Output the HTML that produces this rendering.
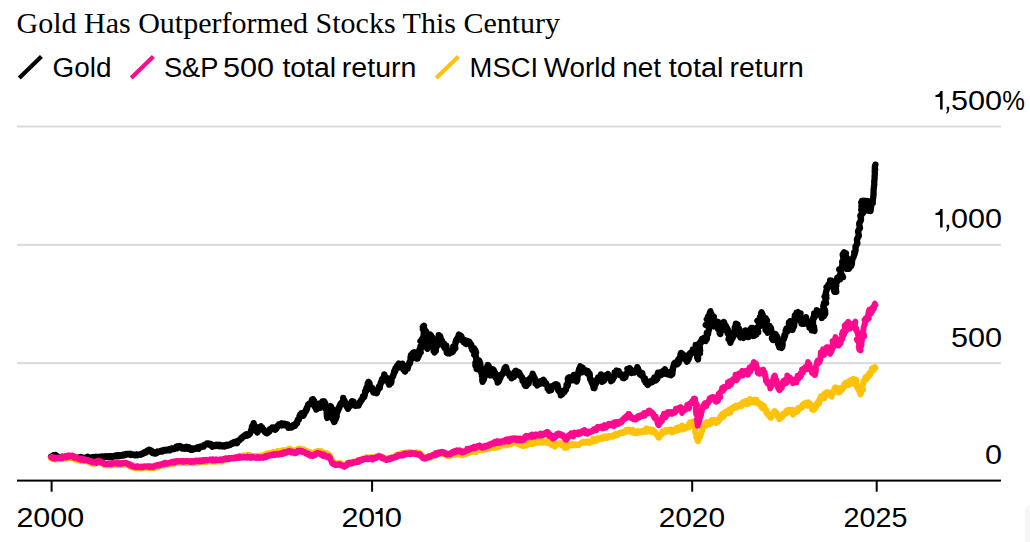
<!DOCTYPE html>
<html><head><meta charset="utf-8"><title>Gold Has Outperformed Stocks This Century</title>
<style>
html,body{margin:0;padding:0;background:#fff;}
body{width:1030px;height:542px;overflow:hidden;position:relative;font-family:"Liberation Sans",sans-serif;}
svg{position:absolute;left:0;top:0;display:block;}
text{fill:#000;}
.t{font-family:"Liberation Serif",serif;font-size:30px;}
.s{font-family:"Liberation Sans",sans-serif;font-size:27px;}
.ln{fill:none;stroke-width:5.9;stroke-linejoin:round;stroke-linecap:round;}
</style></head><body>
<svg width="1030" height="542" viewBox="0 0 1030 542">
<rect width="1030" height="542" fill="#fff"/>
<!-- corner shadow -->
<path d="M1030 505.5 Q1025 506.5 1025 512 L1025 542 L1030 542 Z" fill="#f6f6f6"/>
<!-- title -->
<text class="t" x="16.5" y="32.5">Gold Has Outperformed Stocks This Century</text>
<!-- legend -->
<line x1="19.3" y1="77.9" x2="41.4" y2="56.6" stroke="#000" stroke-width="4.2"/>
<line x1="131.2" y1="77.9" x2="153.3" y2="56.6" stroke="#ff0a8f" stroke-width="4.2"/>
<line x1="436.3" y1="77.9" x2="458.4" y2="56.6" stroke="#ffc20a" stroke-width="4.2"/>
<text class="s" x="52.58" y="77.4" textLength="58.98" lengthAdjust="spacingAndGlyphs">Gold</text>
<text class="s" x="163.94" y="77.4" textLength="54.48" lengthAdjust="spacingAndGlyphs">S&amp;P</text>
<text class="s" x="222.92" y="77.4" textLength="51.08" lengthAdjust="spacingAndGlyphs">500</text>
<text class="s" x="282.40" y="77.4" textLength="53.79" lengthAdjust="spacingAndGlyphs">total</text>
<text class="s" x="341.85" y="77.4" textLength="74.55" lengthAdjust="spacingAndGlyphs">return</text>
<text class="s" x="469.62" y="77.4" textLength="68.41" lengthAdjust="spacingAndGlyphs">MSCI</text>
<text class="s" x="543.77" y="77.4" textLength="72.16" lengthAdjust="spacingAndGlyphs">World</text>
<text class="s" x="622.19" y="77.4" textLength="38.89" lengthAdjust="spacingAndGlyphs">net</text>
<text class="s" x="668.80" y="77.4" textLength="54.62" lengthAdjust="spacingAndGlyphs">total</text>
<text class="s" x="729.56" y="77.4" textLength="74.13" lengthAdjust="spacingAndGlyphs">return</text>
<text class="s" x="950.92" y="109.5" textLength="51.08" lengthAdjust="spacingAndGlyphs">500</text>
<text class="s" x="1002.35" y="109.5" textLength="22.71" lengthAdjust="spacingAndGlyphs">%</text>
<text class="s" x="951.07" y="227.5" textLength="50.93" lengthAdjust="spacingAndGlyphs">000</text>
<text class="s" x="950.92" y="346.7" textLength="51.08" lengthAdjust="spacingAndGlyphs">500</text>
<text class="s" x="985.07" y="463.6" textLength="17.00" lengthAdjust="spacingAndGlyphs">0</text>
<text class="s" x="16.45" y="526.6" textLength="67.77" lengthAdjust="spacingAndGlyphs">2000</text>
<text class="s" x="341.46" y="526.6" textLength="33.72" lengthAdjust="spacingAndGlyphs">20</text>
<text class="s" x="384.85" y="526.6" textLength="17.23" lengthAdjust="spacingAndGlyphs">0</text>
<text class="s" x="658.68" y="526.6" textLength="66.41" lengthAdjust="spacingAndGlyphs">2020</text>
<text class="s" x="843.54" y="526.6" textLength="63.91" lengthAdjust="spacingAndGlyphs">2025</text>
<path d="M4.75,-18.5 L7.2,-18.5 L7.2,0 L4.7,0 L4.7,-12.6 L0.1,-12.6 L0.1,-14.4 Q3.9,-14.6 4.95,-18.5 Z" transform="translate(935.4,109.5)"/>
<path d="M1.2,-2.7 h2.5 v2.7 q0,3.1 -2.5,4.3 l-0.7,-0.9 q1.4,-0.8 1.5,-3.4 h-0.8 z" transform="translate(945.5,109.5)"/>
<path d="M4.75,-18.5 L7.2,-18.5 L7.2,0 L4.7,0 L4.7,-12.6 L0.1,-12.6 L0.1,-14.4 Q3.9,-14.6 4.95,-18.5 Z" transform="translate(935.4,227.5)"/>
<path d="M1.2,-2.7 h2.5 v2.7 q0,3.1 -2.5,4.3 l-0.7,-0.9 q1.4,-0.8 1.5,-3.4 h-0.8 z" transform="translate(945.5,227.5)"/>
<path d="M4.75,-18.5 L7.2,-18.5 L7.2,0 L4.7,0 L4.7,-12.6 L0.1,-12.6 L0.1,-14.4 Q3.9,-14.6 4.95,-18.5 Z" transform="translate(375.4,526.6)"/>
<!-- grid -->
<g fill="#d9d9d9">
<rect x="17" y="125.5" width="984" height="2"/>
<rect x="17" y="243.8" width="984" height="2"/>
<rect x="17" y="362.2" width="984" height="2"/>
</g>
<!-- series -->
<polyline class="ln" stroke="#000" style="stroke-width:6.3" points="51.0,456.8 51.3,456.7 51.5,456.4 51.7,456.3 52.0,457.0 52.3,456.6 52.5,456.8 52.7,456.6 53.0,456.2 53.2,455.6 53.5,455.3 53.7,455.6 54.0,455.7 54.2,455.7 54.5,455.8 54.7,456.1 55.0,456.0 55.2,455.9 55.5,455.6 55.8,455.2 56.0,455.9 56.3,456.4 56.5,456.9 56.7,456.6 57.0,456.4 57.3,456.4 57.5,456.3 57.7,456.6 58.0,457.0 58.2,457.1 58.5,457.1 58.8,457.5 59.0,457.6 59.3,457.4 59.5,457.5 59.8,457.3 60.0,457.9 60.3,458.1 60.5,457.6 60.8,457.3 61.0,457.4 61.3,457.3 61.5,457.3 61.8,458.0 62.0,456.7 62.3,457.1 62.5,457.3 62.8,457.5 63.0,457.5 63.3,457.6 63.5,457.8 63.8,457.6 64.0,457.7 64.3,457.4 64.5,457.2 64.8,457.0 65.0,457.6 65.3,457.1 65.5,457.3 65.8,457.8 66.0,457.6 66.3,457.2 66.5,457.8 66.8,457.6 67.0,457.3 67.3,457.2 67.5,457.2 67.8,457.4 68.0,457.1 68.3,457.3 68.5,457.2 68.8,457.2 69.0,457.1 69.3,457.2 69.5,457.3 69.8,457.2 70.0,457.4 70.3,457.3 70.5,457.4 70.8,457.5 71.0,457.5 71.3,457.4 71.5,457.6 71.7,457.7 72.0,457.4 72.2,457.7 72.5,457.7 72.7,457.5 73.0,457.8 73.3,457.8 73.5,457.9 73.7,457.9 74.0,458.0 74.2,458.0 74.5,457.7 74.8,457.4 75.0,457.8 75.3,458.6 75.5,458.9 75.8,457.7 76.0,458.0 76.2,457.9 76.5,457.7 76.8,457.8 77.0,457.9 77.2,457.8 77.5,457.9 77.7,458.1 78.0,458.0 78.2,458.3 78.5,458.4 78.8,458.5 79.0,458.4 79.2,458.0 79.5,457.4 79.7,457.5 80.0,457.7 80.3,457.3 80.5,457.4 80.7,457.1 81.0,457.8 81.2,458.4 81.5,458.2 81.7,457.5 82.0,458.0 82.3,457.9 82.5,457.5 82.7,457.7 83.0,457.9 83.3,458.0 83.5,458.4 83.8,458.4 84.0,458.0 84.3,457.7 84.5,457.6 84.8,457.8 85.0,457.8 85.2,457.9 85.5,457.8 85.7,457.9 86.0,457.6 86.2,457.7 86.5,457.8 86.7,457.5 87.0,457.1 87.2,456.9 87.5,457.0 87.7,456.8 88.0,457.5 88.2,456.9 88.5,457.5 88.7,458.0 88.9,457.7 89.2,458.1 89.4,457.4 89.7,457.6 89.9,457.5 90.2,457.8 90.4,457.8 90.7,457.6 90.9,457.6 91.2,457.6 91.4,457.9 91.7,457.8 91.9,457.4 92.2,457.5 92.4,457.3 92.6,457.4 92.9,457.4 93.1,457.3 93.4,457.3 93.6,457.5 93.9,457.0 94.1,457.2 94.4,457.2 94.6,457.3 94.9,457.1 95.1,457.0 95.4,457.5 95.6,457.8 95.9,457.6 96.1,457.2 96.4,457.1 96.6,456.7 96.9,457.2 97.1,457.8 97.4,457.9 97.6,457.1 97.9,457.4 98.1,457.5 98.4,457.3 98.6,457.1 98.9,457.1 99.1,456.8 99.4,457.0 99.6,457.2 99.9,457.1 100.1,457.4 100.4,457.3 100.6,457.4 100.9,457.6 101.1,457.2 101.4,456.8 101.6,457.1 101.9,456.7 102.1,457.1 102.4,457.0 102.6,456.8 102.9,456.9 103.1,456.6 103.4,456.9 103.6,457.0 103.9,457.1 104.1,457.4 104.4,457.1 104.6,456.8 104.9,456.7 105.1,457.1 105.4,456.8 105.6,456.4 105.9,456.6 106.1,456.4 106.4,456.5 106.7,456.5 106.9,456.7 107.2,456.5 107.4,456.5 107.7,457.0 107.9,456.9 108.2,457.0 108.4,456.9 108.7,456.6 108.9,456.2 109.2,456.4 109.4,457.0 109.7,456.6 109.9,456.3 110.2,456.4 110.4,456.3 110.7,456.2 110.9,456.7 111.2,456.6 111.4,456.8 111.7,456.6 111.9,456.5 112.2,456.7 112.4,456.5 112.7,456.5 112.9,456.8 113.2,456.7 113.4,456.6 113.7,456.5 113.9,456.5 114.2,456.3 114.4,456.4 114.7,456.2 114.9,455.7 115.2,455.6 115.4,456.1 115.7,456.3 115.9,456.4 116.2,456.4 116.4,455.7 116.6,456.2 116.9,455.9 117.1,455.8 117.4,455.4 117.6,455.8 117.9,455.9 118.1,456.1 118.4,456.3 118.6,455.7 118.9,455.2 119.1,455.4 119.4,455.8 119.6,455.4 119.9,456.0 120.1,455.7 120.4,455.4 120.6,455.6 120.9,455.8 121.1,455.5 121.4,455.3 121.6,455.5 121.8,455.3 122.1,455.4 122.3,455.5 122.6,455.4 122.8,454.7 123.1,454.6 123.3,454.7 123.6,455.1 123.8,455.5 124.1,455.2 124.3,455.3 124.5,455.3 124.8,455.0 125.1,454.9 125.3,455.0 125.6,455.0 125.8,454.6 126.0,454.0 126.3,454.1 126.5,454.2 126.8,454.5 127.0,454.3 127.3,454.0 127.5,453.9 127.8,454.1 128.0,454.1 128.3,453.9 128.5,453.9 128.7,453.9 129.0,453.9 129.2,454.1 129.5,454.3 129.7,454.3 130.0,453.9 130.2,454.0 130.5,453.8 130.7,455.0 131.0,454.7 131.2,454.3 131.5,454.2 131.7,454.4 132.0,454.4 132.2,454.6 132.5,454.8 132.7,454.7 132.9,454.8 133.2,454.7 133.4,454.7 133.7,454.5 133.9,454.6 134.2,454.7 134.4,454.8 134.7,455.1 134.9,455.1 135.2,455.3 135.4,455.3 135.7,455.1 135.9,454.7 136.2,454.9 136.4,454.6 136.7,454.9 136.9,454.5 137.2,454.8 137.4,454.7 137.7,454.9 137.9,455.1 138.2,454.7 138.4,454.8 138.7,454.7 138.9,454.6 139.2,454.6 139.4,454.5 139.7,454.6 139.9,454.5 140.2,454.7 140.4,454.4 140.7,454.4 140.9,453.9 141.2,454.2 141.4,454.5 141.7,454.0 141.9,454.2 142.2,454.1 142.4,453.6 142.7,454.0 142.9,453.6 143.2,453.7 143.4,453.3 143.7,453.2 143.9,453.0 144.2,452.4 144.4,452.2 144.7,452.3 144.9,452.4 145.2,452.1 145.4,452.1 145.7,452.7 146.0,452.4 146.2,452.3 146.5,452.0 146.7,451.2 146.9,451.2 147.2,450.7 147.5,450.5 147.7,450.9 148.0,450.8 148.2,450.1 148.5,450.1 148.8,449.9 149.0,450.2 149.2,449.9 149.5,449.7 149.7,449.8 150.0,450.0 150.2,450.5 150.5,450.4 150.8,450.6 151.0,451.3 151.2,452.0 151.4,451.0 151.7,450.8 152.0,452.1 152.2,452.4 152.4,452.3 152.7,453.1 153.0,452.5 153.2,452.6 153.4,452.6 153.7,452.3 154.0,453.1 154.2,453.1 154.5,453.1 154.7,453.4 154.9,453.3 155.2,453.3 155.5,453.1 155.7,453.3 155.9,452.7 156.2,453.4 156.5,452.9 156.8,452.5 157.0,451.9 157.3,451.6 157.5,451.8 157.7,452.4 158.0,452.1 158.3,451.9 158.5,452.0 158.8,451.6 159.0,451.6 159.3,451.4 159.5,451.5 159.8,451.7 160.0,451.6 160.3,451.5 160.5,451.1 160.8,451.5 161.0,451.6 161.3,451.3 161.5,451.0 161.8,451.4 162.0,450.8 162.3,451.5 162.5,451.2 162.8,451.0 163.0,450.2 163.3,450.1 163.5,450.5 163.8,450.0 164.0,450.7 164.3,450.2 164.5,450.6 164.8,450.2 165.0,450.4 165.2,450.0 165.5,449.9 165.8,449.9 166.0,450.2 166.3,450.4 166.5,450.2 166.8,449.9 167.0,450.2 167.3,450.2 167.5,450.1 167.7,449.9 168.0,449.7 168.2,449.6 168.5,450.0 168.8,449.6 169.0,450.4 169.3,449.9 169.5,449.9 169.8,449.1 170.0,449.2 170.3,450.2 170.5,449.6 170.8,449.4 171.1,449.3 171.3,449.5 171.5,449.3 171.8,448.6 172.0,449.0 172.3,449.0 172.6,448.7 172.8,448.9 173.0,448.7 173.3,448.7 173.6,448.5 173.8,448.5 174.1,448.8 174.3,448.9 174.5,448.3 174.8,448.3 175.1,448.1 175.3,448.3 175.6,448.1 175.8,448.4 176.1,447.8 176.4,446.6 176.6,446.9 176.8,447.2 177.1,446.6 177.3,447.1 177.6,448.2 177.8,447.8 178.1,446.8 178.3,446.3 178.6,446.5 178.9,446.4 179.1,446.5 179.3,446.5 179.6,446.3 179.8,446.2 180.1,446.6 180.3,446.1 180.6,446.7 180.8,447.7 181.1,447.7 181.3,447.6 181.6,447.9 181.8,447.9 182.1,448.6 182.3,448.5 182.5,447.9 182.8,447.9 183.1,447.6 183.3,448.0 183.6,448.0 183.8,448.1 184.1,447.9 184.3,447.7 184.5,448.6 184.8,448.8 185.1,448.1 185.3,447.9 185.5,447.1 185.8,447.1 186.1,447.2 186.3,447.0 186.5,446.7 186.8,447.6 187.1,447.3 187.3,447.5 187.6,447.8 187.8,448.2 188.1,448.8 188.3,447.8 188.6,448.0 188.8,447.5 189.1,447.3 189.3,448.1 189.6,448.5 189.8,448.6 190.0,448.7 190.3,449.0 190.6,449.5 190.8,449.8 191.1,449.6 191.3,449.7 191.6,449.6 191.8,448.9 192.1,448.6 192.3,449.3 192.6,449.6 192.8,449.3 193.1,449.6 193.3,448.5 193.6,448.7 193.8,449.1 194.1,449.1 194.3,448.9 194.6,449.0 194.8,448.8 195.1,448.4 195.3,448.2 195.6,448.3 195.8,448.8 196.1,448.8 196.3,448.6 196.6,448.4 196.9,448.4 197.1,448.0 197.3,448.4 197.6,448.1 197.8,447.3 198.1,447.7 198.4,448.2 198.6,448.9 198.9,447.7 199.1,447.9 199.4,446.8 199.6,446.7 199.9,447.6 200.1,447.1 200.4,446.8 200.6,447.2 200.9,446.8 201.1,446.9 201.4,447.1 201.6,446.9 201.9,446.5 202.2,446.6 202.4,446.5 202.7,446.5 202.9,446.4 203.1,446.4 203.4,446.2 203.7,446.4 203.9,445.3 204.2,445.4 204.4,444.9 204.7,445.1 205.0,445.0 205.2,444.7 205.5,444.8 205.7,444.3 205.9,444.2 206.2,444.0 206.5,444.3 206.7,443.8 206.9,443.4 207.2,443.5 207.4,443.6 207.7,443.5 207.9,443.4 208.2,443.5 208.4,443.7 208.6,444.3 209.0,443.6 209.2,443.7 209.4,444.1 209.6,444.3 209.9,445.0 210.2,445.3 210.4,444.3 210.7,444.3 210.9,444.1 211.2,444.9 211.4,445.3 211.7,445.3 211.9,446.0 212.2,446.6 212.4,446.3 212.7,446.6 212.9,446.3 213.1,446.4 213.4,446.0 213.7,446.0 213.9,445.7 214.1,446.2 214.4,445.7 214.6,446.0 214.9,446.0 215.1,445.7 215.4,446.1 215.6,446.0 215.9,445.8 216.1,444.7 216.4,445.4 216.6,445.2 216.9,445.2 217.1,445.3 217.4,445.4 217.6,445.1 217.9,445.1 218.1,445.4 218.4,445.0 218.6,445.3 218.9,446.1 219.1,445.8 219.4,446.3 219.6,446.0 219.9,444.7 220.2,444.9 220.4,445.7 220.7,445.8 220.9,445.3 221.2,445.7 221.4,445.8 221.7,446.1 221.9,445.9 222.2,446.3 222.4,446.1 222.7,446.3 222.9,446.3 223.2,445.4 223.4,446.1 223.7,446.0 223.9,445.4 224.2,445.9 224.4,446.6 224.7,446.3 224.9,446.1 225.1,445.3 225.4,445.4 225.6,446.0 225.9,446.1 226.1,446.1 226.4,446.0 226.6,444.7 226.9,445.0 227.1,445.4 227.4,445.5 227.6,445.6 227.9,445.5 228.1,445.6 228.4,445.5 228.6,445.4 228.8,445.4 229.1,445.0 229.4,445.0 229.6,445.0 229.9,444.8 230.1,445.0 230.4,444.1 230.6,443.8 230.9,444.0 231.1,443.8 231.4,443.5 231.6,443.6 231.8,443.2 232.1,442.9 232.4,443.0 232.6,443.2 232.9,443.8 233.1,442.9 233.4,442.7 233.6,442.8 233.9,442.6 234.2,442.1 234.4,442.3 234.7,442.0 234.9,442.3 235.2,442.6 235.4,442.9 235.6,443.0 235.9,443.0 236.2,442.1 236.4,441.6 236.7,441.9 237.0,442.7 237.2,443.1 237.4,442.1 237.7,441.5 237.9,441.2 238.2,440.8 238.4,440.4 238.7,440.5 239.0,440.8 239.2,440.7 239.4,440.3 239.7,440.1 240.0,439.7 240.2,439.5 240.5,439.1 240.7,438.9 241.0,438.7 241.1,438.1 241.4,438.7 241.7,438.4 241.9,438.4 242.1,437.3 242.5,437.2 242.7,437.3 242.9,436.6 243.1,437.0 243.5,436.3 243.7,436.7 243.9,436.1 244.1,435.7 244.4,435.4 244.7,435.4 244.9,435.5 245.2,435.0 245.4,435.7 245.7,435.0 245.9,434.5 246.2,435.0 246.4,434.5 246.7,435.1 246.9,435.8 247.2,435.1 247.5,435.6 247.7,435.5 248.0,434.3 248.2,434.4 248.5,434.9 248.7,435.0 249.0,434.8 249.2,434.4 249.6,433.6 249.7,433.3 250.0,433.7 250.4,432.3 250.5,431.9 250.9,432.0 251.1,430.7 251.2,430.1 251.4,429.5 251.8,428.4 251.9,426.9 252.3,426.0 252.7,425.6 252.6,426.1 252.9,425.3 253.3,424.5 253.6,424.2 253.7,423.2 253.8,424.7 254.2,424.9 254.5,425.3 254.6,426.3 255.3,426.4 255.6,427.5 255.7,427.7 255.9,429.5 256.0,429.2 256.0,429.4 256.5,430.3 256.7,431.0 256.9,432.0 257.2,432.5 257.5,432.3 257.7,432.0 257.9,430.9 258.2,430.4 258.4,429.1 258.7,428.3 258.9,428.3 259.3,429.0 259.4,428.0 259.6,427.0 259.9,427.1 260.1,427.2 260.3,427.0 260.6,426.8 260.8,426.7 261.1,426.4 261.4,427.8 261.6,428.9 261.9,429.2 262.1,428.8 262.3,427.6 262.5,428.9 262.8,429.0 263.0,428.9 263.2,429.1 263.5,429.2 263.7,429.5 264.0,430.4 264.2,430.8 264.6,431.8 264.8,431.6 264.9,431.7 265.2,431.5 265.6,431.9 265.8,432.7 266.0,432.9 266.2,432.5 266.4,432.3 266.7,432.8 267.0,433.3 267.3,433.1 267.5,433.0 267.7,432.4 267.9,432.5 268.2,431.3 268.6,431.9 268.6,431.8 269.0,431.2 269.4,431.5 269.5,430.3 269.7,429.2 270.0,429.2 270.1,429.4 270.5,429.2 270.7,429.7 270.9,428.8 271.2,428.9 271.5,428.4 271.7,428.0 272.0,428.0 272.2,427.5 272.4,427.6 272.6,427.7 272.9,427.7 273.2,427.6 273.4,428.5 273.6,428.9 273.9,429.2 274.1,428.7 274.4,429.1 274.6,429.4 274.8,429.3 275.1,429.8 275.4,429.4 275.7,429.4 275.9,428.4 276.2,428.0 276.3,428.2 276.6,428.5 276.9,427.7 277.1,427.4 277.5,426.7 277.6,425.8 277.8,426.3 278.2,425.8 278.4,425.0 278.7,424.6 278.9,424.7 279.2,424.5 279.5,424.5 279.7,424.7 280.0,424.6 280.2,424.4 280.5,424.4 280.7,424.7 281.0,424.4 281.2,425.1 281.5,424.3 281.7,423.3 282.0,425.1 282.2,425.5 282.5,424.5 282.7,424.8 283.0,424.3 283.2,424.6 283.5,424.9 283.7,423.7 284.0,423.9 284.2,423.9 284.5,423.9 284.8,424.0 285.0,423.7 285.2,424.6 285.5,425.4 285.8,424.8 285.9,424.9 286.3,424.7 286.5,424.7 286.7,425.1 286.9,425.0 287.3,425.7 287.5,424.3 287.7,425.9 287.9,427.0 288.3,427.3 288.4,427.8 288.7,427.3 289.0,427.3 289.2,427.4 289.4,426.9 289.7,427.4 290.0,427.0 290.2,427.5 290.5,426.9 290.7,426.3 291.0,426.1 291.2,427.6 291.4,427.2 291.8,427.3 291.9,427.4 292.3,427.2 292.5,426.2 292.7,425.7 293.0,425.4 293.2,426.1 293.5,424.9 293.7,425.1 294.0,425.6 294.2,425.9 294.5,425.6 294.7,425.6 295.0,425.7 295.2,424.9 295.4,425.2 295.8,423.7 296.1,422.9 296.5,423.5 296.3,423.0 296.9,423.5 297.1,423.3 297.3,421.9 297.7,420.0 297.8,419.7 298.0,419.8 298.3,419.7 298.6,419.0 298.9,419.5 299.1,419.1 299.3,418.2 299.5,416.1 299.8,415.5 299.8,415.6 300.2,414.4 300.7,414.2 300.8,415.9 301.1,415.0 301.5,414.0 301.6,413.1 301.9,413.7 302.1,413.9 302.4,414.8 302.6,415.8 303.0,415.5 303.2,414.8 303.5,415.7 303.7,415.2 303.9,414.7 304.1,414.4 304.5,413.4 305.0,412.1 305.0,411.6 305.5,411.7 305.7,411.2 305.8,411.0 306.2,411.1 306.1,409.2 306.7,408.5 307.1,408.5 307.1,408.0 307.0,407.3 307.4,406.9 307.9,405.4 308.1,404.5 308.3,404.2 308.7,404.0 309.0,404.6 309.2,403.8 309.5,404.6 309.6,403.8 310.0,403.3 310.4,403.2 310.5,403.2 310.9,403.5 310.9,403.7 311.4,401.4 311.6,401.5 311.9,399.6 312.2,401.3 312.3,402.0 312.7,400.3 312.8,399.1 312.7,400.9 313.4,400.1 314.0,400.5 314.1,403.0 314.0,402.8 314.3,403.9 314.6,404.0 314.9,405.5 315.1,406.6 314.6,406.4 315.2,406.1 315.5,408.0 316.1,408.5 316.3,409.6 316.7,409.3 317.1,408.9 317.3,407.7 317.3,406.1 317.7,406.6 317.8,405.9 317.9,404.9 318.4,405.1 318.8,404.0 318.7,403.6 319.1,403.6 319.4,405.1 319.7,405.4 320.0,406.1 320.2,407.9 320.3,407.4 320.6,406.8 320.6,405.7 321.2,405.2 321.9,405.5 321.8,403.7 321.9,403.3 322.1,402.5 322.4,401.6 322.6,402.9 322.8,402.7 323.0,402.0 323.2,401.8 323.7,403.2 323.8,401.7 324.1,401.2 324.4,401.9 325.1,402.9 324.2,403.3 325.1,404.5 325.4,404.8 325.5,406.1 325.4,407.3 325.3,408.8 327.0,410.1 326.7,412.7 326.7,414.0 326.8,414.4 326.8,415.9 327.2,418.0 327.3,417.5 327.7,416.4 327.9,416.0 328.3,414.8 328.3,413.3 328.9,411.6 329.0,411.0 329.4,409.8 329.4,410.6 329.6,409.0 330.3,408.1 330.1,407.3 330.6,406.1 331.0,406.7 331.1,406.5 331.3,408.1 333.0,409.8 332.3,412.8 331.9,413.6 332.2,415.0 332.5,416.6 332.6,417.6 332.8,419.5 333.4,420.1 333.8,420.9 333.8,421.2 334.1,422.1 334.2,421.9 334.5,421.8 334.8,420.4 335.2,418.6 335.4,418.4 335.4,418.8 335.9,418.9 336.0,418.0 336.7,416.6 336.2,415.8 336.8,414.4 336.7,413.8 337.3,412.2 337.4,411.0 337.9,410.6 338.1,410.6 338.1,409.2 338.4,407.9 339.0,408.4 338.9,408.6 339.5,407.6 339.5,406.8 339.8,406.5 339.8,405.0 340.3,404.4 340.5,404.8 341.2,402.9 340.8,403.4 341.4,403.9 341.6,402.6 341.9,402.5 341.8,402.4 342.4,402.5 342.5,402.0 343.1,400.4 343.2,397.9 343.3,399.3 343.4,399.7 343.7,400.1 343.9,400.4 344.3,400.2 344.6,401.0 344.7,402.5 345.3,404.7 345.3,403.0 345.6,403.4 346.1,403.3 346.4,404.0 346.6,404.3 346.7,405.7 346.8,406.5 347.0,406.3 347.2,406.7 347.6,407.4 347.7,408.3 348.0,408.8 348.3,407.7 348.5,407.0 348.7,407.2 349.0,406.9 349.4,405.0 349.6,405.1 349.7,405.1 350.0,406.1 350.4,405.9 350.7,405.4 350.6,404.7 351.2,403.5 351.2,402.7 351.6,402.2 351.7,401.4 352.0,401.2 352.2,401.2 352.5,402.1 352.8,402.4 353.1,403.0 353.2,403.8 353.6,401.7 353.7,404.2 354.1,404.3 354.2,403.8 354.6,404.0 354.9,404.7 354.9,404.7 355.3,404.8 355.5,405.9 355.7,405.4 356.0,405.6 356.3,404.6 356.4,404.7 356.7,405.5 357.0,404.4 357.3,405.3 357.6,404.7 357.7,403.7 357.9,404.2 358.2,404.5 358.5,404.8 358.6,405.6 358.9,404.1 359.2,403.5 359.5,402.5 359.7,403.2 360.0,402.3 360.2,402.4 360.4,402.0 360.7,401.3 361.0,400.1 361.2,401.0 361.4,400.0 362.0,399.8 362.0,399.2 362.4,398.7 362.5,397.9 362.8,397.7 362.9,396.4 363.3,397.8 363.8,396.5 363.6,396.8 363.8,396.2 364.3,396.9 364.3,396.7 364.5,394.9 364.9,394.8 365.1,393.0 365.0,391.6 365.4,391.7 366.3,391.2 366.0,389.5 365.8,390.2 366.2,388.4 366.7,387.2 367.0,386.6 367.1,386.7 367.8,385.1 367.7,383.4 368.1,382.7 368.4,382.0 368.5,382.9 369.0,382.2 369.0,382.4 369.6,383.3 369.7,385.2 369.8,385.9 370.4,388.0 370.6,386.8 370.5,386.3 371.1,387.1 371.1,388.5 371.4,389.3 371.7,389.0 372.0,388.7 372.2,388.3 372.5,388.2 372.6,389.1 372.7,389.7 373.2,390.1 373.3,392.5 373.7,392.7 373.9,392.3 374.1,391.7 374.3,391.6 374.7,391.3 374.9,391.5 375.1,390.9 375.4,390.8 375.7,391.2 375.9,392.3 376.0,392.6 376.4,392.1 376.6,392.9 376.8,393.2 377.0,391.0 377.3,391.1 377.6,390.9 377.8,390.6 378.0,389.2 378.3,388.9 378.6,388.4 378.8,388.5 378.9,386.7 379.4,386.9 379.8,388.1 379.6,386.0 380.1,385.4 380.2,385.6 380.4,383.9 380.6,383.4 381.3,382.7 381.1,382.1 381.8,382.1 381.8,380.6 381.9,379.2 382.2,378.9 382.6,379.3 382.9,378.3 383.1,379.3 383.4,379.5 383.5,379.3 383.8,378.8 384.1,378.2 384.3,374.3 384.7,376.8 384.8,378.5 385.2,377.9 385.3,377.8 385.6,378.5 385.8,378.1 386.2,377.4 386.4,377.8 386.7,377.8 386.9,379.8 387.1,380.0 387.5,381.2 388.1,381.6 388.3,382.2 388.1,381.3 388.3,382.8 388.7,381.8 389.0,382.6 389.2,384.6 389.5,384.6 389.7,383.6 389.9,382.6 390.4,383.2 390.4,382.6 390.7,382.6 391.0,383.2 391.5,381.2 391.0,382.2 391.4,380.6 391.9,377.2 391.8,377.8 393.0,376.5 392.7,376.8 393.1,376.0 393.3,374.7 393.4,374.1 393.7,374.4 393.9,373.2 394.3,370.7 394.3,372.9 395.2,371.4 395.1,371.0 395.4,370.6 395.4,369.3 395.5,368.0 396.1,367.6 396.4,367.0 396.6,366.5 396.8,366.1 397.1,366.7 397.4,367.4 397.7,367.5 397.9,367.8 398.2,364.5 398.3,364.3 398.7,363.6 399.0,365.3 399.3,366.2 399.5,365.3 399.7,364.9 400.0,364.9 400.2,364.5 400.5,365.3 400.7,365.2 401.0,364.7 401.4,364.9 401.7,365.2 401.4,364.0 402.0,365.2 402.4,363.6 402.4,366.2 402.9,367.8 402.9,368.2 403.2,369.4 403.3,368.7 404.1,369.4 404.0,369.3 404.3,368.8 404.6,370.7 404.9,371.4 405.1,371.6 405.3,370.7 405.5,370.7 405.8,369.0 406.4,369.3 406.4,367.7 405.8,368.3 406.8,368.6 407.6,365.6 407.4,366.4 407.8,368.5 407.8,365.7 408.3,366.4 408.3,365.9 408.6,364.0 408.8,364.6 409.2,363.5 409.5,362.5 409.7,361.5 410.0,363.3 409.7,362.9 410.7,360.3 410.5,357.3 411.3,357.2 411.0,355.0 411.4,355.9 412.0,354.1 412.3,355.7 412.3,356.0 412.4,354.9 412.8,353.5 413.1,352.8 413.2,353.3 413.4,353.3 413.5,353.9 413.8,353.1 414.1,352.3 414.3,353.5 414.5,353.5 415.1,352.3 415.5,354.0 415.4,354.3 416.0,356.7 416.1,358.0 416.3,357.9 416.6,356.9 416.6,358.5 417.3,358.1 417.3,356.0 417.6,358.6 417.9,357.5 418.1,356.3 418.4,355.7 418.5,354.5 418.6,355.0 419.0,355.5 419.3,354.8 419.1,353.6 419.4,352.5 420.8,352.3 419.9,350.3 420.4,349.3 419.6,349.1 421.1,348.5 420.5,346.3 422.1,346.5 422.1,345.2 422.2,344.4 422.4,342.6 421.8,342.1 420.4,341.1 424.5,340.4 421.9,339.5 423.7,336.0 423.7,332.6 425.1,331.3 422.9,329.4 424.6,329.0 422.8,327.0 423.9,325.7 423.2,326.2 423.5,328.2 423.2,330.0 425.3,331.4 426.2,331.6 424.3,334.2 425.3,335.7 425.0,336.5 423.8,339.4 427.0,344.5 428.4,345.9 426.5,346.6 427.1,346.9 427.0,347.9 427.0,348.2 427.4,348.7 428.3,345.6 428.3,343.9 428.6,341.4 429.1,340.8 428.4,338.5 429.1,337.8 429.1,337.1 429.3,337.7 429.9,337.8 430.5,335.4 430.0,334.7 430.4,336.2 430.8,334.9 431.3,336.2 431.2,336.7 431.4,337.7 432.4,337.7 432.4,339.7 431.9,341.4 432.0,344.4 432.3,346.3 433.1,345.4 433.9,349.7 433.8,349.3 433.6,350.9 433.6,349.2 434.1,350.9 434.6,352.5 435.2,351.2 434.9,350.1 435.8,349.4 435.9,350.5 435.6,348.4 435.8,345.6 436.7,346.6 436.0,345.7 436.5,344.3 437.1,345.4 437.4,343.1 437.7,341.7 438.0,339.8 438.6,339.2 438.7,338.9 438.7,337.3 438.7,335.2 439.2,335.7 439.0,335.2 439.9,337.1 440.6,337.7 440.2,336.2 440.2,337.7 441.0,340.7 440.6,341.2 441.2,341.3 440.9,342.1 442.0,340.5 441.8,341.6 441.3,342.3 442.0,344.5 442.7,343.1 443.0,344.9 443.1,344.8 443.3,345.3 443.6,346.2 444.1,344.7 444.2,343.6 444.5,345.9 444.8,347.0 444.6,348.2 445.5,347.7 445.6,345.9 445.2,347.1 446.0,347.6 446.4,345.7 446.3,350.2 446.7,350.6 446.7,352.4 447.2,352.1 447.5,351.9 447.7,353.3 448.0,352.7 448.2,351.9 448.5,352.6 448.8,351.5 449.0,351.9 449.3,352.2 449.4,352.4 449.7,353.4 450.0,352.9 450.2,350.9 450.4,351.8 450.7,351.4 451.0,352.5 451.3,352.1 451.4,350.3 451.8,350.6 452.0,352.4 452.2,351.6 452.6,351.4 452.7,351.1 453.0,351.0 453.2,351.3 453.3,350.1 453.7,350.3 453.2,346.7 454.1,347.1 454.7,347.2 455.4,348.4 454.9,344.9 455.6,343.3 455.8,341.3 456.2,339.9 455.5,342.2 456.1,341.6 456.7,339.9 456.8,340.3 457.3,338.2 457.8,338.6 457.8,337.6 457.7,337.7 458.1,338.7 458.4,336.7 458.9,334.5 458.5,336.4 459.1,334.9 459.3,335.6 459.7,335.1 459.9,337.4 460.3,336.6 460.2,336.2 460.7,335.7 460.8,336.5 461.1,336.0 461.6,336.8 461.4,337.4 461.8,340.2 462.1,339.3 462.0,339.1 462.7,339.1 462.7,339.9 463.0,339.5 463.3,339.9 463.6,342.1 463.7,341.9 463.9,341.1 464.1,341.2 464.3,340.8 464.9,343.0 465.0,342.4 465.3,343.6 465.1,342.5 465.9,340.5 465.9,341.9 466.4,341.3 466.6,342.2 466.8,344.1 467.0,343.0 467.3,342.0 467.5,340.9 467.9,341.9 468.1,341.9 468.2,343.4 468.6,341.9 468.9,341.5 469.2,341.6 469.4,343.2 469.7,343.1 469.9,342.6 470.2,344.3 470.1,342.8 470.8,344.0 470.9,345.4 471.4,344.8 471.3,347.6 471.9,348.1 472.0,348.4 472.1,349.4 472.3,350.0 472.6,349.9 472.8,348.6 473.2,349.5 473.4,349.2 473.5,351.0 473.8,351.8 474.1,348.1 474.3,348.8 474.6,350.5 474.8,350.2 475.0,350.6 475.2,351.0 475.5,350.5 476.1,352.6 474.3,354.9 475.5,355.2 475.8,355.8 476.1,357.7 476.4,362.5 475.4,362.8 476.1,363.3 475.3,365.3 475.7,366.2 477.0,366.5 476.7,369.1 477.0,367.6 477.7,368.5 477.6,367.1 477.6,365.4 478.3,362.7 478.6,363.0 478.0,364.6 478.5,363.0 478.8,362.5 479.1,360.4 480.2,363.4 480.6,366.1 479.9,366.9 480.3,366.2 479.7,366.1 481.4,370.1 482.6,370.1 480.3,370.9 482.5,375.0 482.0,376.0 482.4,376.0 482.6,377.9 482.2,379.7 482.6,381.9 483.0,381.1 482.6,379.9 483.9,379.4 483.1,379.3 484.0,378.0 484.1,378.4 484.9,376.2 484.5,374.1 484.9,373.8 485.4,372.2 485.6,371.1 486.1,370.2 485.6,370.7 486.2,370.8 486.0,369.8 486.6,371.1 486.9,368.7 486.7,367.5 486.9,367.5 487.2,366.7 487.8,365.0 488.3,365.5 488.3,365.2 489.0,366.9 489.1,370.0 489.5,370.7 488.6,372.0 489.1,372.6 490.2,375.4 490.6,373.5 490.4,373.0 490.4,373.3 490.7,375.0 490.8,374.3 491.4,374.4 491.6,375.4 491.8,374.7 491.8,372.7 491.9,373.9 492.6,372.1 492.4,371.4 492.7,370.4 493.0,369.3 493.3,370.1 493.6,369.7 493.7,370.6 494.3,371.2 494.3,372.4 495.0,372.8 494.4,373.3 495.4,375.1 495.2,375.5 496.1,377.7 495.9,378.1 496.8,379.1 496.7,378.5 496.5,377.4 497.0,379.8 497.4,380.0 497.6,381.7 497.7,382.5 497.9,381.9 498.3,381.3 498.5,381.1 498.9,381.3 499.2,380.7 499.8,378.2 499.4,377.5 500.0,378.4 499.7,378.4 500.0,377.5 500.4,378.1 500.6,375.0 500.9,375.8 501.1,376.0 501.6,375.4 501.8,375.0 501.9,374.4 502.5,373.3 502.6,373.7 502.8,373.8 503.0,372.8 503.6,371.5 504.1,370.0 503.7,371.0 504.5,371.9 504.0,370.8 504.6,369.7 504.5,368.3 505.1,367.4 505.3,367.4 505.7,367.5 505.9,367.1 506.1,367.3 506.6,368.7 506.5,370.0 506.5,370.6 507.2,370.9 507.2,371.5 507.6,372.1 507.6,372.6 508.1,373.5 508.3,372.5 508.7,373.8 508.8,373.8 509.0,374.2 509.4,374.2 509.6,375.8 510.0,375.4 510.0,376.0 510.4,375.7 510.6,375.6 510.9,375.3 511.2,377.6 511.2,376.9 511.6,378.4 511.9,376.8 512.0,377.2 512.3,377.9 512.4,377.2 513.0,375.9 513.1,375.6 513.4,376.8 513.7,375.8 513.9,377.0 514.5,375.0 514.0,375.8 515.1,374.7 514.5,372.1 515.0,372.7 515.5,370.9 515.6,371.0 515.8,370.9 516.1,371.6 516.5,371.0 516.6,372.2 516.7,371.8 517.0,372.8 517.1,374.7 517.5,374.7 517.9,372.7 518.2,373.0 518.3,372.0 518.6,372.4 518.9,374.0 519.1,373.2 519.3,372.5 519.6,374.3 519.9,374.4 520.1,375.5 520.4,375.1 520.6,376.1 521.2,376.8 521.2,377.1 521.5,376.6 521.6,376.7 522.0,377.2 522.3,378.8 522.4,379.3 522.5,380.8 522.8,380.2 523.1,380.7 523.3,381.2 523.5,379.5 523.9,381.7 524.0,382.2 524.2,382.0 524.2,382.8 524.6,384.7 525.2,385.8 525.2,384.5 525.7,385.1 525.9,384.7 526.0,385.8 526.3,386.0 526.5,385.8 526.7,385.0 527.2,383.8 527.4,384.2 527.6,383.1 527.5,383.9 527.8,382.0 528.3,382.0 528.7,383.6 528.8,379.7 529.2,379.8 529.1,379.2 529.6,379.1 529.8,379.6 530.1,378.3 530.1,379.5 530.6,378.2 530.6,378.5 530.8,377.6 531.4,378.5 531.8,379.2 531.9,377.6 532.0,376.7 532.2,375.2 532.5,374.6 532.7,373.8 533.0,375.1 533.5,375.7 533.2,375.7 533.4,378.5 534.4,377.6 534.1,377.7 534.4,378.4 534.2,377.9 534.6,378.1 535.0,378.9 535.7,381.0 536.2,380.9 535.5,383.7 536.7,382.6 536.5,383.5 536.8,383.9 537.1,385.1 537.3,385.4 537.5,385.3 537.9,384.7 538.0,384.3 538.3,384.3 538.8,383.1 539.0,384.0 538.9,382.7 539.3,383.2 539.7,382.2 539.7,381.3 540.1,384.0 540.4,381.8 540.5,381.3 540.8,381.5 541.0,383.5 541.2,381.8 541.5,381.5 541.9,381.4 542.1,382.4 542.3,381.5 542.6,380.8 542.9,381.1 543.1,379.8 543.3,379.7 543.6,380.0 544.1,380.6 544.0,382.5 544.3,382.0 544.6,382.4 544.9,383.1 545.1,384.1 545.4,383.4 545.6,383.2 545.9,383.4 546.1,383.1 546.4,384.2 546.5,384.4 547.1,386.0 547.4,385.9 547.7,386.1 547.6,387.6 547.6,388.4 547.9,388.2 548.4,389.5 548.5,389.5 548.7,389.6 549.0,390.7 549.3,389.7 549.4,390.1 549.9,389.4 549.9,389.3 550.2,388.5 550.3,388.3 550.7,388.9 551.1,390.3 551.1,387.5 551.3,387.5 551.9,386.3 551.9,386.2 552.3,386.6 552.5,386.6 552.8,386.4 553.1,385.8 553.3,386.8 553.5,386.3 553.7,385.7 554.0,385.8 554.2,384.9 554.5,385.3 554.7,386.2 555.0,384.4 555.3,384.4 555.6,386.6 555.8,384.3 556.1,385.5 556.3,384.7 556.6,384.3 556.9,386.1 556.8,386.5 557.4,386.2 557.6,384.8 557.7,386.2 558.2,387.5 557.9,389.7 558.4,390.7 558.8,390.4 559.2,390.7 559.3,390.9 559.5,391.8 559.7,391.7 560.1,391.1 560.3,391.6 560.4,392.3 560.8,395.3 561.0,393.3 561.0,393.6 561.5,392.5 561.8,394.4 561.9,393.5 562.2,394.1 562.4,394.2 562.7,393.7 562.6,392.2 563.4,392.0 563.3,391.0 563.5,391.5 563.9,391.7 564.0,390.9 564.6,391.0 564.6,391.9 565.0,389.7 565.0,390.3 565.8,390.0 565.6,390.0 565.8,388.8 566.4,387.7 566.5,387.8 566.5,385.9 566.5,385.0 567.7,385.6 568.1,383.3 568.1,382.2 567.8,378.6 568.2,377.9 568.4,378.8 568.7,378.2 568.9,378.8 569.2,378.1 569.5,377.3 569.7,378.5 570.0,379.7 570.3,379.2 570.5,378.9 570.7,378.7 570.9,379.3 571.2,379.8 571.4,379.7 571.7,379.0 571.9,378.3 572.1,380.4 572.5,380.0 572.5,378.9 573.0,376.2 573.2,376.3 573.4,376.6 573.8,374.9 574.0,375.0 574.0,375.3 574.6,376.8 574.7,378.1 574.7,378.3 575.5,376.7 575.0,376.7 575.6,376.9 575.7,377.7 576.2,379.3 576.4,380.9 576.7,381.6 576.9,380.8 577.0,380.3 577.4,379.4 577.6,376.1 577.9,374.3 578.2,372.3 578.0,374.4 578.5,374.5 578.9,371.1 578.7,371.0 579.3,368.5 579.6,368.8 579.8,368.7 580.1,367.0 580.3,366.2 580.5,368.5 580.9,368.1 581.1,369.9 581.4,370.6 581.5,371.7 581.9,372.2 582.1,370.2 582.4,367.6 582.7,367.7 582.9,368.4 583.2,370.1 583.4,370.4 583.6,369.5 583.9,370.3 584.1,370.0 584.4,370.2 584.7,370.2 584.9,370.7 585.3,371.3 585.4,370.6 585.6,370.4 585.9,371.2 586.0,371.9 586.4,370.6 586.7,372.1 587.0,373.4 587.1,372.8 587.5,371.8 587.8,370.9 588.0,373.1 588.3,374.0 588.5,373.4 589.1,374.6 589.3,374.6 589.2,372.8 589.6,373.5 589.8,374.8 589.9,377.6 590.4,378.7 590.1,379.0 590.8,379.9 590.8,379.3 591.7,380.6 591.4,381.5 591.9,383.1 592.2,382.4 592.0,383.2 592.7,384.0 593.0,385.3 592.9,385.1 593.5,386.8 593.6,387.9 593.7,387.4 593.9,387.1 594.2,387.9 594.5,388.1 594.6,384.9 595.3,384.9 595.5,384.1 595.4,384.8 595.9,383.8 596.2,381.2 596.0,381.4 596.4,380.5 596.7,380.4 596.9,379.5 597.2,380.2 597.5,379.4 597.7,379.4 598.0,377.5 598.2,377.6 598.5,377.8 598.8,378.0 598.9,377.9 599.3,377.2 599.5,378.0 599.6,378.6 599.9,377.3 600.1,377.5 600.3,377.9 600.7,376.7 600.8,375.7 601.0,374.3 601.5,378.8 601.7,379.4 601.8,378.8 602.0,381.8 602.2,381.1 602.5,381.0 602.8,380.8 603.1,380.1 603.4,379.9 603.6,379.3 604.2,378.0 603.8,378.8 604.1,380.8 604.5,379.3 604.9,377.4 605.0,377.1 605.0,376.1 605.7,375.8 605.7,375.7 606.0,375.2 606.2,375.0 606.5,375.2 606.7,375.3 607.0,376.5 607.3,375.5 607.6,376.5 607.8,375.1 608.1,374.1 608.3,376.4 608.6,377.0 608.8,375.5 609.0,376.1 609.3,376.4 609.5,376.4 609.6,376.1 610.0,378.1 610.4,378.8 610.6,380.0 610.7,379.8 611.0,381.2 611.4,379.2 611.1,380.3 611.6,378.2 611.8,380.4 612.3,379.4 612.4,380.4 612.8,378.6 613.1,377.7 613.2,378.1 613.3,378.6 613.4,377.5 613.6,376.6 614.4,376.6 614.3,375.3 614.7,375.1 614.7,372.3 615.1,372.6 615.7,373.7 615.8,372.4 616.2,372.5 616.3,371.8 616.5,370.5 616.7,371.5 617.0,371.7 617.3,371.8 617.3,371.8 617.5,372.2 617.9,372.3 618.3,372.3 618.4,373.0 618.8,371.0 619.0,373.8 619.4,372.5 619.4,373.8 619.8,373.0 620.0,374.6 620.2,375.2 620.5,374.8 620.7,375.5 621.0,374.7 621.2,375.7 621.6,374.2 621.5,374.5 622.1,375.7 622.2,375.4 622.5,376.8 622.8,377.9 623.2,377.3 623.2,377.7 623.6,378.2 624.0,378.3 624.1,378.3 624.3,377.7 624.6,377.5 624.8,376.9 625.2,377.0 625.5,377.1 625.2,375.2 626.1,374.7 625.9,374.0 626.6,373.3 626.4,373.7 626.8,373.1 627.3,372.2 627.5,371.9 627.9,370.0 627.4,368.9 628.3,369.3 628.6,369.5 628.7,369.4 629.0,370.1 629.2,369.9 629.4,369.0 629.8,369.9 629.7,368.2 630.2,368.6 630.5,370.7 630.8,370.9 631.0,370.1 631.3,371.9 631.4,373.0 631.7,373.0 631.9,372.1 632.2,371.7 632.4,371.3 632.7,371.0 632.9,370.4 633.1,371.4 633.5,371.3 633.7,372.0 634.0,371.8 634.3,371.8 634.6,372.6 634.8,371.7 635.0,372.0 635.2,371.1 635.5,370.9 635.8,370.6 636.0,369.9 636.3,370.0 636.5,369.8 636.8,370.3 637.0,368.2 637.3,367.1 637.6,371.1 638.0,368.4 638.0,369.7 638.2,370.9 638.5,369.6 638.8,371.2 639.0,372.3 639.2,372.6 639.7,373.4 639.8,372.8 640.0,374.4 640.3,373.4 640.7,373.6 640.9,375.0 641.0,374.3 641.4,373.8 641.4,373.9 641.9,373.2 642.1,374.2 642.3,373.0 642.6,374.9 642.8,376.2 643.0,377.1 643.3,376.9 643.7,377.7 643.7,378.6 644.1,378.7 644.3,380.3 644.4,379.9 644.9,378.2 644.8,378.8 645.2,380.5 645.5,382.4 646.1,381.4 646.2,381.4 646.0,382.7 646.4,381.7 646.7,383.1 647.1,384.5 647.3,383.9 647.6,384.7 647.8,385.0 648.1,384.3 648.3,382.9 648.5,381.9 648.8,382.2 649.2,381.8 649.5,383.3 649.7,382.2 649.9,382.6 650.1,382.5 650.4,381.5 650.6,382.5 650.8,381.5 651.1,382.3 651.4,381.6 651.6,382.5 651.9,381.6 652.1,382.3 652.4,381.5 652.7,381.5 653.0,379.8 653.2,380.0 653.5,379.6 653.7,380.4 654.0,378.9 654.3,377.5 654.5,379.1 654.8,380.7 655.0,379.3 655.2,379.9 655.5,380.4 655.7,379.8 655.9,380.5 656.5,379.8 656.7,378.5 656.7,379.3 657.0,378.2 657.4,378.9 657.8,375.6 657.6,373.9 657.9,372.8 658.4,374.2 658.3,374.8 658.9,375.0 659.1,373.3 659.3,373.6 659.6,374.0 659.8,372.9 660.1,372.6 660.3,372.7 660.6,372.4 661.0,373.6 661.0,373.9 661.3,374.9 661.6,371.9 661.9,372.4 662.0,372.0 662.3,372.5 662.7,371.6 662.8,372.3 663.1,371.4 663.3,370.8 663.6,370.5 663.8,371.0 664.0,371.2 664.5,371.0 664.5,370.8 665.0,369.3 665.2,370.5 665.4,372.8 665.6,373.7 665.8,373.0 666.2,372.1 666.3,373.2 666.6,374.1 666.8,372.9 667.1,373.4 667.4,373.0 667.6,373.1 667.9,373.4 668.1,374.3 668.3,373.7 668.6,373.2 669.0,373.6 669.1,374.6 669.3,373.5 669.6,371.9 670.0,374.1 670.2,375.0 670.4,375.0 670.7,375.1 671.0,374.6 671.2,375.2 671.9,374.0 672.5,374.1 671.6,373.8 671.9,374.3 672.3,373.1 672.8,370.3 673.1,367.8 672.8,368.2 673.3,366.6 673.7,365.9 673.8,364.6 674.1,364.7 674.3,363.2 674.6,362.9 674.8,364.5 675.1,364.9 675.3,364.4 675.6,364.5 675.8,363.3 676.1,364.0 676.3,363.6 676.6,364.1 676.8,363.2 677.1,362.4 677.3,363.9 677.6,364.1 677.6,362.7 678.4,360.6 678.6,360.3 678.6,362.9 678.1,359.7 679.3,361.1 679.1,358.4 680.2,357.2 679.4,358.1 680.1,357.6 680.4,355.4 680.5,354.2 680.8,355.4 681.1,355.2 681.2,352.9 681.6,353.7 681.6,353.3 681.9,355.0 682.2,355.7 682.5,353.9 682.7,356.0 682.9,355.5 683.3,357.8 683.5,357.5 683.8,356.9 684.0,357.1 684.2,358.6 684.6,358.7 684.8,358.6 685.2,358.9 685.2,359.3 685.4,357.6 685.9,355.7 686.1,358.1 686.4,360.6 686.5,360.2 686.9,361.7 686.9,360.9 687.3,361.5 687.6,359.0 687.9,360.3 688.1,360.0 688.5,359.5 688.6,359.0 689.2,357.5 689.4,355.3 689.2,355.8 689.6,354.8 689.4,354.1 690.1,354.2 690.2,354.9 690.2,353.1 690.9,353.1 691.1,352.8 691.4,352.9 691.6,352.5 691.9,352.7 692.0,352.4 692.3,352.5 692.7,351.5 692.8,349.5 693.2,350.0 693.4,349.6 693.6,352.1 693.8,352.4 694.1,351.4 694.2,350.3 694.5,350.1 694.3,350.1 695.1,348.6 696.1,349.0 695.7,346.0 695.7,344.9 696.3,346.1 696.7,348.2 696.6,348.4 696.9,351.3 697.1,354.4 695.9,353.7 698.1,354.7 697.1,357.5 698.0,359.5 698.1,357.3 697.3,355.3 699.9,353.5 699.3,352.6 700.2,350.5 699.8,348.6 699.1,349.7 700.0,347.3 698.2,344.9 699.2,343.3 700.3,342.0 700.5,342.7 700.9,343.0 701.2,340.8 701.5,341.7 701.5,340.7 701.7,339.5 701.9,338.9 702.3,340.7 702.6,340.4 702.8,339.4 703.0,339.1 703.4,338.7 703.7,338.5 703.8,339.7 704.2,338.4 704.3,337.8 704.5,338.6 705.0,339.5 705.2,339.4 705.5,340.5 705.7,341.0 706.4,339.0 706.2,337.7 706.5,336.2 707.0,338.8 706.8,332.9 706.9,333.3 707.4,334.6 707.9,334.5 708.1,334.0 708.0,333.4 708.4,331.7 708.6,331.1 709.0,329.2 709.5,327.0 705.7,325.0 710.5,324.5 706.8,319.3 710.3,321.6 710.5,318.2 708.0,316.5 711.3,313.7 709.8,312.8 710.7,312.5 710.4,311.3 710.0,312.8 711.5,314.5 711.2,315.6 710.6,315.4 712.0,315.1 712.1,315.4 713.9,316.8 712.8,321.0 713.3,322.2 713.0,323.5 713.1,323.6 713.8,323.2 713.6,324.7 713.9,326.5 714.2,325.3 714.2,325.9 714.5,323.9 715.2,321.1 714.8,322.1 715.7,324.4 715.4,323.1 715.9,324.4 716.4,325.5 717.0,325.1 716.6,325.4 716.8,324.6 717.1,324.7 717.9,324.1 717.8,322.7 718.0,321.8 717.5,323.8 718.1,325.5 718.1,328.9 718.9,328.7 718.5,329.4 720.1,331.2 719.6,332.9 720.3,331.3 720.3,334.0 720.3,332.4 721.2,331.1 720.9,328.7 721.0,328.5 720.8,330.4 721.8,328.3 722.4,324.7 722.8,325.2 721.7,324.4 722.3,325.2 722.7,324.3 723.5,325.0 724.1,323.3 723.8,321.8 724.2,322.5 724.2,323.3 724.5,325.1 724.9,326.5 725.3,327.1 725.2,324.8 727.0,328.1 725.9,328.4 726.0,328.5 726.1,329.3 726.5,330.7 726.7,330.0 727.1,331.2 727.2,331.3 727.7,333.5 728.1,334.0 728.0,330.0 727.8,331.3 729.0,333.4 729.7,335.2 728.5,339.2 729.6,337.3 730.2,338.1 729.6,340.1 730.4,342.8 730.2,341.6 730.3,340.8 730.3,341.2 731.1,340.9 731.8,337.8 731.2,337.6 732.3,338.9 731.9,337.8 732.4,336.4 732.5,335.4 732.8,334.3 733.3,336.9 733.7,336.0 733.3,333.7 733.7,332.3 734.1,331.5 734.6,330.7 734.8,331.4 734.7,329.4 734.8,330.2 734.7,327.3 734.8,327.1 735.7,325.4 735.7,325.7 735.9,323.6 736.4,323.6 736.6,324.7 736.4,324.1 737.5,324.5 736.8,326.6 739.0,328.7 738.4,327.7 738.3,331.0 737.9,327.5 738.6,329.5 739.2,330.1 738.7,331.1 738.8,332.6 739.5,333.4 739.8,335.7 740.0,336.1 740.4,337.4 740.5,337.3 740.6,333.0 740.9,334.3 741.4,331.8 741.3,335.1 741.7,335.2 742.2,334.0 742.3,336.4 742.5,336.6 742.9,337.6 743.0,337.5 743.6,337.4 743.3,337.9 743.6,335.9 743.9,332.8 744.3,331.2 744.7,333.0 744.8,331.7 745.2,331.6 745.7,332.1 745.6,330.4 745.7,330.8 746.1,331.4 746.2,331.6 747.5,332.8 746.7,335.9 746.8,333.8 747.1,334.5 747.5,334.5 747.7,336.9 748.0,336.1 748.4,336.6 748.5,336.9 748.9,336.3 748.9,335.9 749.7,332.3 749.7,332.4 750.0,330.0 750.2,330.7 750.3,331.4 750.7,329.1 751.0,328.7 750.8,328.7 751.2,328.2 751.1,328.5 751.5,331.0 751.6,329.7 752.8,328.1 752.8,330.6 753.0,332.9 752.7,334.5 753.3,335.9 753.5,334.0 753.8,335.2 754.0,334.5 754.2,334.6 754.5,335.8 754.8,333.9 755.1,332.8 755.2,333.5 755.5,331.2 755.8,332.4 756.0,332.4 756.4,333.7 756.5,334.5 756.7,332.3 757.0,332.8 757.2,331.2 757.5,331.3 757.7,331.7 757.9,332.3 758.2,332.3 758.1,331.1 757.0,327.5 760.6,325.8 759.1,324.8 758.8,322.4 760.5,324.4 757.4,320.7 760.9,320.3 760.0,317.1 761.2,316.8 761.1,314.0 761.1,313.1 761.5,312.8 761.6,312.3 762.7,314.7 761.1,318.2 760.7,319.8 762.7,317.3 762.4,320.1 762.6,321.7 763.4,323.0 763.6,321.9 763.7,321.6 764.3,319.6 763.6,320.4 764.4,322.0 765.3,320.4 765.0,319.0 765.4,319.7 765.7,318.9 765.5,318.0 767.1,320.6 764.7,325.9 767.0,323.9 766.2,325.4 765.5,329.9 766.5,330.9 766.9,331.1 767.1,330.1 767.3,331.4 767.7,332.7 768.0,331.1 768.1,329.9 768.5,329.2 768.7,328.2 768.9,326.9 769.2,328.6 769.4,328.6 769.6,326.0 770.1,327.5 770.2,327.5 770.4,328.2 770.2,329.1 770.9,327.8 771.5,331.7 772.3,332.6 771.3,332.1 773.6,333.9 771.9,338.4 771.9,337.8 772.7,339.9 773.0,340.0 773.2,338.5 773.2,337.7 773.6,338.0 774.3,337.4 774.3,337.4 774.2,336.2 775.0,337.3 774.6,337.2 775.0,335.1 775.2,335.7 775.6,334.0 775.5,335.7 776.5,336.5 776.8,335.9 776.9,337.6 776.8,337.7 777.7,339.9 777.7,337.9 777.5,341.7 777.4,341.3 777.8,341.5 778.0,344.1 779.0,344.8 778.8,345.6 779.1,346.3 779.3,347.4 779.6,346.2 779.9,346.1 780.0,345.7 780.4,344.4 780.6,344.4 780.9,343.4 781.1,347.8 781.4,348.0 781.7,346.2 781.9,345.6 782.1,347.3 782.3,347.1 782.6,345.1 782.6,344.9 782.5,341.9 782.5,341.1 783.0,339.9 784.0,339.0 784.1,337.8 784.4,335.2 784.7,335.6 784.8,336.9 785.2,335.1 785.3,334.3 785.3,333.6 785.9,332.8 785.6,330.8 786.5,328.5 786.8,330.5 786.9,330.2 787.0,331.4 787.3,330.5 787.5,331.2 788.3,330.2 787.4,328.7 789.7,326.4 790.1,324.7 788.8,323.9 789.0,322.4 789.2,324.1 789.4,322.5 790.3,322.7 790.6,323.3 790.3,321.2 790.3,326.4 791.1,327.7 790.8,328.9 791.6,328.8 791.6,328.9 791.7,328.7 792.1,328.3 792.1,329.4 792.5,330.0 793.0,327.3 793.8,326.9 794.1,326.1 791.2,325.7 793.2,326.3 794.2,324.6 794.8,320.4 794.7,316.7 794.7,317.5 794.9,315.4 795.2,316.8 795.4,317.8 795.4,317.2 795.9,317.2 796.1,314.6 796.4,312.8 796.7,315.1 796.9,318.1 797.1,316.2 797.3,313.0 797.6,312.2 797.9,312.0 798.2,312.9 798.4,313.6 798.8,313.7 799.1,313.7 800.6,313.5 799.9,315.7 799.1,317.7 800.1,320.5 800.9,318.7 800.8,319.2 800.6,318.8 800.9,321.2 801.1,322.5 801.3,322.1 801.5,323.7 801.8,322.2 802.1,321.7 802.2,319.6 802.4,319.9 802.6,322.9 802.9,320.8 803.3,322.0 803.6,323.9 803.9,322.5 804.3,319.1 804.3,318.3 804.6,318.9 804.8,320.3 805.0,319.7 805.7,320.3 805.2,319.7 806.1,317.3 806.2,320.3 806.2,323.5 806.8,323.5 807.1,323.3 806.7,322.2 807.3,322.2 808.0,321.1 807.5,322.3 807.9,322.1 808.3,324.1 808.5,324.4 808.8,324.4 809.0,325.1 809.3,324.6 809.2,325.7 809.5,327.7 810.3,326.9 810.1,327.1 809.7,326.7 810.3,327.6 810.9,328.6 811.1,328.2 811.6,329.8 811.7,330.4 812.2,330.2 812.7,329.2 814.5,330.8 814.1,326.8 812.9,324.9 813.1,321.5 812.4,320.3 813.4,317.2 813.7,318.1 814.0,318.2 814.0,317.3 814.2,317.2 814.2,313.3 815.2,315.2 815.0,316.5 815.8,315.7 815.6,314.3 815.8,314.7 815.9,313.9 816.4,311.5 816.9,311.7 816.8,313.2 816.8,310.2 817.6,312.2 817.5,312.5 817.8,311.1 818.1,312.6 818.5,312.8 818.9,313.5 818.8,313.8 818.8,314.1 819.3,311.9 819.8,311.4 819.7,311.4 820.3,313.0 820.6,314.6 820.5,312.6 820.6,313.0 821.2,314.6 821.3,315.4 821.6,316.5 821.8,318.0 822.1,315.7 822.3,313.1 822.6,312.2 822.9,315.2 823.1,312.7 823.4,314.4 823.7,315.4 823.9,316.3 825.3,313.8 825.2,311.3 824.2,308.2 823.2,306.0 823.6,308.1 823.9,303.1 825.8,301.7 826.1,303.2 825.7,301.4 825.2,297.8 826.5,297.8 824.6,296.6 826.0,294.4 826.3,295.3 825.4,294.7 826.4,290.6 827.4,288.5 826.5,287.1 828.3,285.6 828.5,284.3 828.6,284.3 829.3,286.3 829.2,285.7 829.5,284.1 830.0,284.0 830.1,280.3 830.2,285.0 830.7,283.3 830.9,284.9 831.2,282.2 831.4,280.6 831.4,281.7 831.8,282.1 832.1,281.0 833.0,283.2 832.9,285.5 833.1,284.0 834.0,282.6 834.6,284.9 833.0,286.9 834.8,288.0 833.7,287.7 834.1,290.5 834.5,291.8 836.3,291.8 836.0,289.4 835.7,288.0 834.1,288.1 836.2,286.0 835.3,284.8 835.7,283.5 836.6,282.9 837.2,280.7 837.1,279.5 837.2,277.9 837.8,279.2 837.8,280.2 837.7,278.7 838.9,277.0 838.3,277.9 839.0,277.7 838.8,278.9 839.3,275.6 839.6,277.0 840.0,279.5 840.0,278.5 840.2,275.5 840.6,275.1 840.4,277.1 843.1,277.2 840.4,272.0 841.1,269.9 839.2,269.4 842.4,267.9 842.0,268.2 842.4,262.8 842.2,261.7 843.1,262.4 843.0,261.6 843.7,260.1 842.7,254.4 844.0,252.3 844.4,256.7 844.1,261.9 845.0,258.8 846.1,256.5 845.4,256.4 845.8,254.5 845.3,254.1 845.9,253.2 845.0,255.4 845.2,257.6 845.6,257.3 847.2,258.2 845.6,261.9 846.2,266.0 849.0,268.8 846.3,268.8 847.6,268.1 848.0,268.7 848.3,267.7 848.3,268.1 848.8,264.9 848.8,266.5 849.2,263.0 849.4,266.2 849.5,266.0 849.8,265.2 850.1,263.3 850.3,265.0 850.5,262.6 850.8,265.4 851.1,266.3 851.3,264.1 851.6,264.7 851.4,265.1 851.9,264.1 852.1,259.6 852.9,258.2 852.5,258.9 851.8,260.3 852.5,259.4 853.8,256.3 853.8,255.8 854.6,254.2 854.2,252.2 854.5,254.2 854.4,254.6 855.3,251.6 855.6,250.1 855.5,246.0 855.7,245.9 856.0,246.2 856.2,245.5 856.3,245.4 856.8,244.4 856.9,244.2 857.3,243.7 857.4,243.0 857.1,241.9 857.0,240.4 856.9,239.0 857.2,238.9 857.3,238.8 857.7,238.1 857.9,237.2 858.1,236.8 858.4,236.6 858.6,236.2 858.9,236.0 858.7,234.5 858.3,233.0 858.0,231.5 858.2,230.7 858.6,230.2 858.8,229.8 858.9,229.2 859.2,229.1 859.5,228.9 859.8,228.6 860.0,228.0 859.6,226.0 859.3,225.1 859.2,223.5 859.4,222.7 859.8,222.4 860.0,221.8 860.2,221.2 860.5,221.2 860.7,220.6 861.0,220.0 861.0,218.6 860.4,216.1 860.3,215.5 860.5,215.1 860.8,215.4 861.1,215.8 861.3,215.5 861.6,214.4 861.8,213.8 862.0,214.3 862.3,213.1 862.5,212.6 862.7,212.6 863.0,212.8 863.2,213.0 862.1,210.6 861.2,210.0 861.4,208.0 861.7,206.9 861.4,205.9 862.0,204.2 861.2,202.6 861.8,201.0 862.2,202.7 862.3,204.3 862.5,205.1 862.7,206.5 863.2,205.5 863.5,204.0 863.5,202.4 863.6,200.6 864.2,202.6 864.2,204.3 864.2,205.3 864.6,207.0 864.7,205.6 865.2,204.6 865.5,202.3 865.6,200.8 866.3,202.7 865.8,204.3 866.3,205.7 866.4,207.5 866.6,209.0 866.9,207.3 867.0,205.2 867.6,203.9 867.3,202.4 867.6,201.0 867.7,202.8 867.6,203.5 868.1,205.5 868.4,207.3 868.7,209.6 868.6,210.8 868.7,209.4 869.1,207.5 869.3,206.3 869.3,205.5 869.5,203.1 869.6,201.5 869.5,203.3 870.0,204.2 870.0,205.6 870.1,207.6 870.4,209.2 870.6,211.0 870.8,208.9 871.1,206.9 871.2,205.4 871.6,204.0 871.9,204.0 872.1,203.2 872.3,203.1 872.6,203.0 872.8,203.0 872.7,201.5 872.9,199.3 873.2,198.0 873.3,196.0 873.6,194.4 873.5,193.0 873.6,190.9 873.6,189.4 873.9,187.9 874.0,186.0 874.3,184.5 874.3,182.8 874.2,181.3 874.5,179.7 874.6,178.5 874.6,176.7 874.7,175.0 874.9,173.3 874.8,172.9 874.7,170.5 875.2,169.5 874.8,168.4 874.9,166.3 875.4,164.6"/>
<polyline class="ln" stroke="#ffc20a" points="51.0,458.3 51.3,458.3 51.5,458.4 51.8,458.2 52.0,458.8 52.3,459.1 52.5,459.1 52.8,458.4 53.1,458.9 53.3,458.3 53.6,458.4 53.8,458.9 54.1,459.3 54.3,459.4 54.6,459.2 54.9,459.5 55.1,459.5 55.3,459.4 55.6,459.3 55.8,459.5 56.1,459.2 56.3,459.1 56.6,458.8 56.8,459.1 57.1,459.1 57.3,458.3 57.5,458.7 57.8,459.0 58.0,458.5 58.3,458.9 58.5,459.2 58.8,459.0 59.0,458.8 59.3,458.9 59.5,458.7 59.8,458.4 60.0,458.9 60.3,458.3 60.5,458.9 60.8,458.0 61.0,458.4 61.3,458.0 61.5,458.6 61.8,458.6 62.0,459.0 62.3,458.8 62.5,458.1 62.8,458.4 63.0,457.9 63.3,458.2 63.5,458.2 63.8,458.1 64.1,457.8 64.3,458.0 64.5,458.1 64.8,458.1 65.0,457.8 65.3,458.2 65.5,457.7 65.8,458.3 66.0,457.5 66.3,457.6 66.5,458.2 66.8,458.4 67.0,457.7 67.3,458.1 67.5,458.0 67.8,457.8 68.0,457.6 68.3,457.7 68.5,457.9 68.8,458.4 69.0,457.7 69.3,457.5 69.5,457.2 69.7,457.8 70.0,457.1 70.3,457.3 70.5,457.1 70.8,457.1 71.0,457.5 71.3,457.1 71.5,457.0 71.7,457.1 72.0,456.5 72.2,457.2 72.5,457.4 72.8,457.9 73.0,457.2 73.3,457.4 73.4,458.1 73.7,458.6 74.0,458.6 74.3,458.5 74.5,458.4 74.8,458.7 75.0,458.6 75.3,458.8 75.5,459.1 75.7,459.9 76.0,459.9 76.2,459.7 76.5,459.6 76.7,459.0 76.9,459.5 77.2,459.3 77.4,460.0 77.7,460.4 77.9,460.2 78.2,460.3 78.4,460.2 78.7,460.2 78.9,460.4 79.1,460.0 79.4,460.1 79.6,460.3 79.9,460.7 80.1,460.9 80.4,461.1 80.6,460.6 80.9,460.6 81.1,461.0 81.4,460.0 81.6,459.6 81.9,460.2 82.1,460.4 82.4,460.5 82.6,460.6 82.9,461.1 83.1,460.7 83.4,460.0 83.6,459.7 83.9,459.8 84.1,460.3 84.4,460.4 84.6,461.1 84.9,461.1 85.1,460.9 85.4,460.8 85.6,460.5 85.9,460.9 86.1,461.0 86.4,461.0 86.6,461.0 86.8,460.9 87.1,461.3 87.3,461.1 87.6,460.9 87.8,460.9 88.1,460.6 88.3,461.0 88.6,461.7 88.8,461.2 89.1,461.8 89.3,462.3 89.6,462.6 89.8,463.0 90.0,462.9 90.3,463.1 90.6,462.9 90.8,463.3 91.1,463.2 91.3,463.1 91.5,463.1 91.8,463.5 92.0,463.6 92.3,463.1 92.5,463.3 92.8,463.3 93.0,462.9 93.3,463.4 93.5,463.1 93.8,464.0 94.0,463.8 94.3,463.6 94.5,463.4 94.8,463.7 95.0,463.5 95.3,462.8 95.5,462.9 95.8,463.3 96.0,462.6 96.3,462.7 96.5,462.5 96.8,463.2 97.0,462.4 97.3,462.8 97.5,462.9 97.8,462.3 98.0,461.8 98.3,462.0 98.5,462.0 98.8,462.0 99.0,462.3 99.3,462.6 99.5,462.6 99.8,462.7 100.0,462.6 100.3,462.8 100.5,463.0 100.7,463.1 101.0,463.4 101.3,463.6 101.5,463.7 101.8,463.1 102.0,463.2 102.2,463.2 102.5,463.3 102.7,463.6 103.0,463.7 103.2,464.2 103.5,464.8 103.7,464.7 104.0,465.1 104.2,465.2 104.5,465.0 104.7,465.0 105.0,465.2 105.2,465.2 105.5,465.2 105.7,465.3 106.0,465.3 106.2,465.1 106.5,465.3 106.7,465.0 107.0,465.1 107.2,465.3 107.5,465.4 107.7,465.3 108.0,465.1 108.2,464.8 108.4,464.9 108.7,464.8 109.0,464.7 109.2,465.0 109.4,464.9 109.7,465.5 109.9,465.5 110.2,465.2 110.5,465.3 110.7,464.5 110.9,464.9 111.2,464.3 111.4,464.4 111.7,464.6 112.0,464.9 112.2,465.3 112.4,464.6 112.7,464.4 113.0,464.6 113.2,464.8 113.4,464.4 113.7,464.5 113.9,464.6 114.2,464.8 114.4,464.7 114.7,464.6 115.0,464.5 115.2,464.4 115.4,464.5 115.7,464.6 115.9,464.5 116.2,464.6 116.4,464.6 116.7,464.5 117.0,464.7 117.2,464.4 117.4,464.4 117.7,464.2 118.0,464.2 118.2,464.5 118.4,465.1 118.7,465.1 118.9,465.1 119.2,464.5 119.5,464.7 119.7,464.6 120.0,464.7 120.2,464.7 120.4,464.7 120.7,464.9 121.0,464.7 121.2,464.4 121.5,464.7 121.7,464.3 122.0,464.5 122.2,464.1 122.5,464.7 122.7,464.5 122.9,464.8 123.2,464.7 123.5,464.3 123.7,464.6 124.0,464.2 124.2,464.2 124.5,464.5 124.7,464.2 125.0,464.2 125.2,464.0 125.5,463.8 125.7,464.2 125.9,464.0 126.2,464.1 126.4,464.3 126.7,464.4 126.9,464.5 127.2,464.6 127.5,464.7 127.7,464.9 128.0,464.8 128.2,464.9 128.4,465.3 128.7,465.3 128.9,465.2 129.2,465.5 129.5,465.9 129.7,465.7 129.9,466.7 130.2,466.3 130.5,466.4 130.7,466.4 131.0,466.5 131.2,466.1 131.4,466.5 131.7,466.5 132.0,466.7 132.2,467.1 132.4,467.3 132.7,467.2 132.9,467.5 133.2,467.6 133.5,467.6 133.7,467.5 134.0,467.9 134.2,467.9 134.5,468.1 134.7,468.2 135.0,468.0 135.2,467.5 135.5,467.9 135.7,468.1 136.0,468.1 136.2,467.6 136.5,468.2 136.7,467.8 137.0,467.6 137.2,468.2 137.5,468.2 137.7,468.0 138.0,468.2 138.2,468.0 138.5,468.1 138.7,468.0 139.0,468.2 139.3,468.1 139.5,468.1 139.8,468.0 140.0,468.3 140.2,468.4 140.5,468.2 140.7,468.5 141.0,468.2 141.3,467.8 141.5,467.7 141.7,467.5 142.0,467.7 142.3,467.7 142.5,467.7 142.7,467.9 143.0,467.7 143.2,468.0 143.5,468.0 143.8,467.9 144.0,467.7 144.3,467.6 144.5,467.7 144.7,467.4 145.0,467.7 145.3,467.8 145.5,467.7 145.8,467.7 146.0,467.6 146.3,467.8 146.5,467.7 146.8,467.8 147.0,467.9 147.3,467.8 147.5,467.7 147.8,467.5 148.0,467.6 148.3,467.6 148.5,467.8 148.8,468.0 149.0,467.6 149.3,467.8 149.5,468.1 149.8,467.5 150.0,467.8 150.3,467.8 150.5,467.5 150.8,467.7 151.0,467.9 151.3,468.0 151.5,467.9 151.8,467.9 152.0,467.8 152.3,468.0 152.5,467.9 152.8,467.7 153.0,468.1 153.3,468.1 153.5,467.9 153.8,467.7 154.0,468.2 154.3,467.6 154.5,467.2 154.8,467.4 155.0,467.4 155.3,467.5 155.5,467.2 155.8,467.1 156.0,467.1 156.2,467.0 156.5,467.0 156.7,466.9 157.0,467.1 157.3,466.6 157.5,467.1 157.7,466.8 158.0,466.9 158.2,466.5 158.5,466.4 158.7,466.0 159.0,466.0 159.2,466.0 159.5,466.1 159.7,465.7 160.0,465.8 160.2,465.7 160.5,466.0 160.7,465.6 161.0,465.1 161.2,465.2 161.4,465.4 161.7,465.3 162.0,465.3 162.2,465.0 162.4,465.3 162.7,465.4 163.0,465.3 163.2,465.5 163.5,465.5 163.7,465.4 164.0,465.2 164.2,465.1 164.5,464.7 164.7,464.8 165.0,464.9 165.2,464.8 165.5,464.6 165.7,464.9 166.0,464.7 166.2,464.5 166.5,464.6 166.7,464.7 167.0,464.3 167.2,464.2 167.5,464.5 167.7,464.2 168.0,464.0 168.2,464.0 168.5,464.0 168.7,464.5 169.0,464.2 169.2,464.1 169.5,464.3 169.7,464.0 170.0,464.0 170.3,463.7 170.5,463.7 170.8,463.9 171.0,463.6 171.3,463.9 171.5,463.6 171.8,463.7 172.0,463.0 172.3,463.5 172.5,463.7 172.8,463.6 173.0,464.3 173.3,463.7 173.5,463.8 173.8,463.9 174.0,463.6 174.3,463.4 174.6,462.7 174.8,463.0 175.1,463.0 175.3,462.7 175.6,462.9 175.8,462.8 176.1,463.2 176.3,463.0 176.6,462.9 176.8,462.5 177.1,462.4 177.3,462.2 177.6,462.1 177.8,462.1 178.1,462.5 178.3,462.3 178.6,462.3 178.8,462.2 179.1,462.3 179.3,462.2 179.6,462.3 179.8,462.5 180.1,462.3 180.3,462.3 180.6,462.2 180.8,462.2 181.1,462.0 181.3,462.3 181.6,462.9 181.8,462.6 182.1,462.8 182.3,461.8 182.6,462.2 182.8,462.5 183.1,462.7 183.3,462.6 183.5,462.7 183.8,462.6 184.0,461.8 184.3,462.2 184.5,462.0 184.8,462.4 185.0,462.8 185.3,462.3 185.5,462.6 185.8,462.8 186.0,462.5 186.3,462.7 186.5,462.1 186.8,462.9 187.0,462.5 187.3,462.5 187.5,462.7 187.8,462.5 188.0,462.5 188.3,462.4 188.5,462.4 188.8,462.5 189.0,462.1 189.3,462.0 189.5,462.2 189.8,462.4 190.0,462.2 190.3,461.7 190.5,462.2 190.8,462.2 191.0,462.6 191.3,462.7 191.5,462.6 191.8,462.3 192.0,462.1 192.3,462.7 192.6,462.5 192.8,462.8 193.1,463.0 193.3,462.4 193.6,462.8 193.8,462.3 194.1,462.1 194.3,462.6 194.6,462.4 194.8,462.7 195.1,462.3 195.3,462.6 195.6,462.7 195.8,462.5 196.1,462.4 196.3,462.1 196.6,462.2 196.8,462.2 197.1,462.1 197.3,462.4 197.6,462.3 197.8,462.6 198.1,462.3 198.3,462.2 198.6,462.1 198.8,462.0 199.1,461.8 199.3,461.6 199.6,461.7 199.8,461.5 200.1,461.8 200.3,461.7 200.6,462.0 200.8,461.9 201.1,461.8 201.3,461.7 201.6,461.7 201.8,461.9 202.1,461.8 202.3,461.4 202.6,461.0 202.8,460.6 203.1,460.9 203.3,460.7 203.6,460.9 203.8,461.3 204.1,462.0 204.3,461.8 204.6,462.2 204.8,461.7 205.1,461.6 205.3,461.3 205.6,461.2 205.8,461.6 206.1,461.1 206.3,461.4 206.6,461.8 206.8,461.9 207.1,461.6 207.3,461.4 207.6,461.4 207.8,461.1 208.1,461.1 208.3,461.1 208.6,461.1 208.8,461.1 209.1,461.0 209.3,461.2 209.6,461.1 209.8,461.0 210.1,461.3 210.3,461.4 210.6,461.5 210.8,460.9 211.1,460.7 211.3,460.7 211.6,461.0 211.8,461.1 212.1,461.3 212.3,461.3 212.6,461.6 212.8,460.7 213.1,461.1 213.3,460.7 213.6,460.8 213.8,460.9 214.1,460.9 214.4,461.4 214.6,461.8 214.9,461.2 215.1,460.9 215.4,460.7 215.6,461.0 215.9,461.1 216.1,461.2 216.4,461.4 216.6,460.8 216.9,461.0 217.1,460.6 217.4,460.8 217.6,460.8 217.9,461.3 218.1,461.0 218.4,461.2 218.6,461.2 218.9,461.3 219.1,461.3 219.4,461.2 219.6,461.1 219.9,461.1 220.2,461.1 220.4,461.0 220.6,460.8 220.9,460.8 221.1,461.1 221.4,461.4 221.6,461.3 221.9,461.4 222.1,461.0 222.4,460.9 222.6,460.8 222.9,460.5 223.1,460.0 223.4,460.0 223.6,459.8 223.9,460.3 224.1,459.7 224.4,460.2 224.6,459.6 224.9,459.5 225.1,459.6 225.4,459.8 225.6,460.1 225.9,459.7 226.1,459.5 226.4,459.9 226.6,459.8 226.9,459.5 227.1,459.1 227.4,459.0 227.6,458.8 227.9,459.2 228.1,459.3 228.4,458.4 228.6,459.1 228.9,459.4 229.1,459.5 229.4,459.5 229.6,458.8 229.9,458.5 230.1,458.8 230.4,458.3 230.6,458.6 230.9,458.4 231.1,458.8 231.4,458.6 231.6,458.5 231.9,458.5 232.1,458.6 232.4,458.2 232.6,458.1 232.9,458.2 233.1,458.4 233.4,458.4 233.6,458.0 233.9,458.4 234.1,458.3 234.4,457.6 234.6,457.8 234.9,457.5 235.1,457.8 235.4,457.4 235.6,457.3 235.9,457.6 236.1,457.7 236.4,457.3 236.6,457.1 236.9,457.8 237.2,457.5 237.4,457.2 237.7,456.6 237.9,456.6 238.1,457.5 238.4,457.9 238.7,458.0 238.9,457.9 239.2,457.3 239.4,457.9 239.7,457.1 239.9,457.0 240.2,456.8 240.4,456.5 240.7,457.0 240.9,457.0 241.2,456.2 241.4,456.0 241.7,456.2 241.9,456.3 242.2,455.8 242.4,455.6 242.7,455.7 242.9,455.9 243.2,455.9 243.4,455.8 243.7,455.8 243.9,455.6 244.2,455.3 244.4,456.1 244.7,455.7 244.9,455.5 245.2,455.5 245.4,455.9 245.7,455.6 245.9,456.3 246.2,455.8 246.4,455.4 246.7,455.2 246.9,455.7 247.2,455.7 247.4,455.5 247.7,455.4 247.9,455.0 248.2,455.6 248.4,455.4 248.7,455.9 248.9,456.2 249.2,455.8 249.4,454.8 249.7,455.0 249.9,455.4 250.2,455.6 250.4,455.4 250.7,456.4 250.9,456.6 251.2,456.7 251.4,456.6 251.7,456.8 251.9,456.1 252.2,456.5 252.4,456.0 252.7,455.9 252.9,456.0 253.2,455.9 253.4,456.1 253.7,456.1 253.9,456.2 254.2,456.1 254.4,456.3 254.7,456.1 254.9,456.2 255.2,456.1 255.4,456.1 255.7,455.8 255.9,456.3 256.2,456.4 256.4,456.5 256.7,456.7 256.9,456.8 257.2,455.7 257.4,456.4 257.7,456.1 257.9,456.0 258.2,456.1 258.5,456.8 258.7,457.3 259.0,457.4 259.2,456.9 259.5,456.5 259.7,456.3 260.0,456.8 260.2,456.3 260.5,456.2 260.7,455.9 261.0,455.4 261.2,455.8 261.5,456.0 261.7,456.3 262.0,456.2 262.2,456.2 262.5,456.0 262.8,456.1 263.0,455.9 263.3,455.5 263.5,455.1 263.8,455.6 264.0,455.2 264.2,455.0 264.5,454.6 264.7,455.5 265.0,455.0 265.2,456.0 265.5,455.2 265.8,454.7 266.0,455.6 266.2,454.8 266.5,453.8 266.7,453.7 267.0,453.3 267.2,453.9 267.5,454.4 267.7,453.8 267.9,454.3 268.2,454.9 268.4,454.7 268.7,453.9 268.9,454.3 269.2,453.6 269.5,453.5 269.7,452.9 270.0,453.3 270.2,453.5 270.4,453.0 270.7,452.9 271.0,453.0 271.2,453.0 271.5,453.1 271.7,452.9 272.0,453.0 272.2,452.5 272.5,452.8 272.7,452.4 273.0,452.6 273.2,452.8 273.5,452.4 273.7,452.0 274.0,452.3 274.2,452.8 274.5,453.1 274.7,452.8 275.0,452.2 275.2,452.2 275.5,453.6 275.7,453.3 276.0,452.4 276.2,452.4 276.5,453.0 276.7,453.0 277.0,452.5 277.3,452.3 277.5,452.3 277.8,451.3 278.0,450.7 278.3,451.4 278.5,451.4 278.8,452.1 279.0,451.9 279.3,451.5 279.5,451.5 279.8,451.7 280.1,451.4 280.3,452.0 280.6,451.8 280.8,451.6 281.0,452.0 281.3,451.7 281.5,451.5 281.8,450.6 282.1,451.0 282.3,451.0 282.6,450.7 282.8,450.1 283.1,450.7 283.3,450.7 283.6,450.3 283.8,450.4 284.1,450.4 284.3,450.3 284.6,451.4 284.9,451.0 285.1,451.3 285.3,451.0 285.6,451.4 285.8,451.0 286.1,450.0 286.3,450.1 286.6,449.8 286.8,449.7 287.1,449.5 287.4,450.0 287.6,449.7 287.8,449.7 288.1,449.6 288.4,449.6 288.6,449.2 288.9,449.4 289.1,449.1 289.4,449.7 289.6,449.5 289.8,449.2 290.1,449.3 290.4,448.6 290.6,450.1 290.8,450.2 291.1,450.1 291.3,449.9 291.6,450.0 291.8,450.2 292.1,450.1 292.3,450.5 292.6,450.5 292.8,450.7 293.0,450.3 293.3,450.7 293.5,450.5 293.8,450.7 294.0,450.4 294.3,450.5 294.5,450.4 294.7,450.8 295.0,450.9 295.3,450.8 295.5,450.6 295.8,450.5 296.0,450.5 296.2,450.8 296.5,450.3 296.8,450.6 297.0,450.4 297.4,450.4 297.6,449.7 297.8,449.0 298.1,449.7 298.3,448.8 298.6,449.4 298.8,449.3 299.1,448.7 299.4,448.4 299.6,448.5 299.9,448.8 300.1,449.1 300.3,448.7 300.6,448.8 300.8,449.2 301.1,449.3 301.4,449.3 301.6,449.6 301.8,449.5 302.1,450.2 302.3,449.4 302.6,449.6 302.8,450.3 303.1,450.4 303.4,449.7 303.6,449.9 303.9,449.9 304.1,449.4 304.4,450.4 304.6,450.5 304.8,451.1 305.1,450.7 305.3,451.1 305.6,450.4 305.8,450.9 306.1,451.1 306.4,450.8 306.6,451.4 306.8,451.4 307.1,451.7 307.4,452.1 307.6,452.8 307.9,452.5 308.1,452.1 308.4,452.0 308.6,451.7 308.9,452.3 309.1,453.2 309.4,453.6 309.6,453.5 309.9,453.3 310.1,452.9 310.4,452.8 310.6,452.1 310.9,452.5 311.1,452.6 311.4,453.3 311.7,453.3 311.9,453.8 312.1,454.0 312.4,453.8 312.7,453.8 312.9,453.5 313.1,453.5 313.4,453.3 313.6,453.1 313.9,453.5 314.1,453.5 314.4,452.5 314.6,452.8 314.9,452.0 315.1,451.8 315.4,451.9 315.6,452.1 315.9,451.6 316.1,452.2 316.3,452.2 316.6,451.4 316.9,451.2 317.1,451.1 317.3,451.3 317.6,451.4 317.8,451.4 318.1,450.9 318.3,450.9 318.5,451.0 318.8,451.5 319.0,451.6 319.3,451.2 319.5,450.9 319.8,451.4 320.0,451.5 320.2,451.7 320.5,452.0 320.8,452.2 321.0,452.2 321.2,452.3 321.5,451.1 321.7,451.3 322.0,452.1 322.2,452.0 322.5,451.9 322.7,452.3 323.0,452.2 323.2,452.4 323.4,453.0 323.7,452.7 324.0,453.2 324.2,453.6 324.5,453.5 324.7,453.8 324.9,453.9 325.2,453.8 325.4,454.1 325.7,453.7 325.9,454.0 326.2,453.7 326.4,454.6 326.7,453.1 326.9,453.3 327.2,453.7 327.4,453.8 327.7,453.7 327.9,454.0 328.2,454.8 328.4,454.5 328.6,454.1 328.9,455.1 329.2,454.8 329.4,455.4 329.7,455.1 329.9,455.5 330.2,456.0 330.4,457.3 330.7,457.6 330.8,458.6 330.9,459.5 331.4,460.0 331.7,460.4 331.9,460.5 332.2,461.3 332.5,461.5 332.7,461.5 333.0,461.3 333.2,461.8 333.5,461.7 333.7,462.1 334.0,462.9 334.2,463.3 334.4,463.3 334.7,463.1 335.0,463.5 335.2,463.1 335.4,463.7 335.7,464.4 336.0,464.2 336.2,464.1 336.5,464.2 336.7,463.6 336.9,463.3 337.2,463.6 337.4,463.7 337.7,463.6 338.0,463.7 338.2,464.1 338.4,463.5 338.7,463.2 339.0,463.5 339.2,463.2 339.4,463.2 339.7,463.1 340.0,463.4 340.2,464.0 340.5,463.8 340.7,464.1 340.9,463.6 341.2,463.3 341.5,463.9 341.7,464.3 342.0,464.3 342.2,464.1 342.5,464.7 342.7,464.9 343.0,465.4 343.2,465.3 343.5,465.3 343.7,465.5 344.0,466.0 344.3,466.0 344.5,466.1 344.8,465.9 345.0,465.7 345.2,465.4 345.5,465.4 345.8,465.3 346.0,465.0 346.3,464.1 346.5,464.2 346.8,463.8 347.0,463.2 347.3,463.5 347.5,463.2 347.8,463.0 348.0,462.9 348.2,462.9 348.5,462.6 348.8,462.5 349.0,462.4 349.2,462.5 349.5,462.2 349.8,462.2 350.0,462.0 350.2,461.9 350.5,462.0 350.8,462.3 351.0,462.1 351.3,462.4 351.5,462.0 351.8,462.0 352.0,461.9 352.3,462.3 352.5,462.1 352.7,462.5 353.0,462.6 353.3,462.4 353.5,462.5 353.7,462.0 354.0,461.5 354.2,461.5 354.5,461.7 354.7,461.6 355.0,461.8 355.2,461.6 355.5,461.5 355.7,461.5 356.0,461.4 356.2,461.2 356.5,461.3 356.7,461.0 357.0,461.1 357.2,460.9 357.5,460.4 357.7,460.5 358.0,460.8 358.2,460.6 358.5,460.7 358.7,460.7 359.0,460.9 359.2,460.7 359.5,460.3 359.7,459.9 359.9,459.8 360.2,459.7 360.4,460.0 360.7,460.3 360.9,459.8 361.2,459.2 361.4,459.7 361.7,459.0 361.9,459.2 362.2,459.1 362.4,458.8 362.7,458.7 362.9,459.1 363.2,458.6 363.4,458.8 363.7,458.4 363.9,458.3 364.1,458.2 364.4,458.2 364.7,458.0 364.9,458.0 365.2,458.0 365.4,457.8 365.7,458.1 365.9,457.7 366.2,457.2 366.4,457.8 366.7,457.5 366.9,457.7 367.2,458.0 367.5,457.7 367.7,458.0 368.0,458.1 368.2,457.7 368.5,457.5 368.7,457.5 369.0,457.6 369.2,458.1 369.5,458.1 369.7,458.0 370.0,457.6 370.2,457.9 370.5,457.7 370.7,457.6 371.0,458.0 371.2,457.3 371.5,457.3 371.7,457.4 372.0,458.2 372.2,458.1 372.5,458.1 372.7,458.3 373.0,458.3 373.2,458.2 373.5,457.8 373.7,457.8 374.0,457.5 374.2,457.2 374.5,457.5 374.7,457.6 374.9,457.2 375.2,457.4 375.4,457.9 375.7,457.2 375.9,457.3 376.2,457.0 376.4,456.9 376.7,455.9 376.9,456.4 377.2,456.3 377.4,456.4 377.6,456.9 377.9,456.7 378.2,456.4 378.4,455.9 378.7,455.9 378.9,455.7 379.2,456.0 379.4,455.9 379.7,455.7 379.9,455.8 380.1,455.9 380.4,455.9 380.6,456.6 380.9,457.1 381.1,457.3 381.4,457.1 381.6,456.8 381.9,456.8 382.1,457.4 382.3,457.1 382.6,456.8 382.9,457.4 383.1,457.4 383.4,458.1 383.6,457.7 383.9,457.5 384.1,457.5 384.3,458.1 384.6,458.6 384.8,459.1 385.1,458.9 385.3,458.7 385.6,458.6 385.8,458.9 386.1,459.3 386.3,459.3 386.5,459.2 386.8,459.1 387.1,458.6 387.3,458.3 387.5,458.5 387.8,459.1 388.1,459.4 388.3,458.8 388.5,459.1 388.8,458.8 389.0,458.6 389.3,458.4 389.6,458.8 389.8,458.5 390.0,458.1 390.3,458.4 390.5,458.5 390.8,458.8 391.1,458.5 391.3,457.7 391.5,457.3 391.8,457.6 392.0,457.4 392.3,457.3 392.5,457.2 392.8,456.8 393.1,457.2 393.3,457.0 393.5,456.9 393.8,456.9 394.0,456.9 394.3,456.8 394.6,457.0 394.8,456.8 395.1,456.4 395.3,456.1 395.5,456.4 395.8,455.8 396.0,455.9 396.3,455.6 396.5,454.7 396.8,455.1 397.1,455.6 397.3,455.2 397.6,454.9 397.8,455.2 398.0,455.5 398.3,455.4 398.6,455.2 398.8,454.8 399.1,454.8 399.3,454.2 399.6,454.1 399.8,454.5 400.1,454.2 400.3,454.1 400.6,453.6 400.8,453.8 401.0,453.8 401.3,453.8 401.6,453.8 401.8,452.9 402.0,453.4 402.3,452.9 402.5,453.8 402.8,453.3 403.1,453.2 403.3,453.6 403.5,454.2 403.8,453.6 404.0,453.5 404.3,453.1 404.5,452.8 404.8,453.4 405.1,452.8 405.3,452.6 405.6,452.9 405.8,452.9 406.1,453.7 406.3,453.0 406.5,452.8 406.8,452.9 407.1,452.9 407.3,452.9 407.6,452.8 407.8,453.0 408.1,453.3 408.3,453.3 408.6,452.2 408.8,452.1 409.1,451.8 409.3,452.7 409.6,453.1 409.8,453.0 410.1,453.1 410.3,452.9 410.6,452.7 410.8,452.0 411.1,452.3 411.3,452.5 411.6,452.5 411.8,453.1 412.1,452.8 412.3,453.1 412.6,453.4 412.8,453.4 413.1,452.8 413.3,452.7 413.6,452.7 413.8,453.0 414.1,453.2 414.3,452.9 414.6,453.0 414.8,452.8 415.1,452.9 415.3,453.3 415.6,453.3 415.8,452.7 416.1,452.8 416.3,453.1 416.6,453.2 416.8,453.4 417.1,452.7 417.3,452.3 417.6,452.5 417.8,452.9 418.1,452.9 418.3,453.2 418.6,453.4 418.8,453.1 419.1,452.5 419.3,453.1 419.6,453.0 419.8,453.3 420.1,453.5 420.4,454.0 420.6,454.4 420.9,455.0 421.2,455.8 421.4,455.6 421.6,456.4 421.9,456.7 422.0,456.9 422.4,457.2 422.6,457.3 422.9,457.3 423.1,457.7 423.4,457.4 423.6,457.5 423.9,457.1 424.1,457.8 424.4,458.1 424.6,457.2 424.9,457.8 425.1,456.9 425.4,457.8 425.6,457.7 425.9,457.6 426.1,457.7 426.4,457.7 426.6,457.5 426.9,457.7 427.1,457.7 427.4,457.8 427.6,457.7 427.8,457.6 428.1,457.3 428.4,456.5 428.6,457.0 428.9,456.6 429.1,456.0 429.4,456.5 429.6,456.1 429.9,456.5 430.1,457.3 430.4,456.8 430.7,457.3 430.9,457.6 431.2,457.1 431.4,456.7 431.6,456.1 431.9,455.5 432.1,455.5 432.4,455.6 432.7,455.5 432.9,455.4 433.2,455.3 433.4,455.1 433.7,455.0 433.9,455.8 434.2,455.2 434.4,455.4 434.7,455.4 434.9,455.4 435.2,455.5 435.4,454.9 435.7,454.5 435.9,454.9 436.2,455.0 436.4,455.3 436.7,454.8 436.9,454.6 437.2,455.0 437.4,454.2 437.7,454.2 437.9,453.9 438.2,453.5 438.4,453.3 438.7,454.2 438.9,453.7 439.2,452.8 439.4,453.1 439.7,453.2 439.9,453.5 440.2,453.0 440.5,453.3 440.7,453.3 440.9,453.4 441.2,453.7 441.4,453.6 441.7,453.4 441.9,453.2 442.2,453.3 442.5,453.1 442.7,453.7 442.9,453.9 443.2,453.1 443.5,453.5 443.7,453.8 443.9,453.9 444.2,453.5 444.4,453.8 444.6,453.8 444.9,454.3 445.2,454.5 445.4,454.0 445.6,454.0 445.9,454.6 446.1,455.4 446.4,454.9 446.6,455.3 446.9,455.8 447.1,455.3 447.3,455.9 447.6,455.9 447.9,455.8 448.1,456.1 448.3,456.0 448.6,456.0 448.8,456.1 449.1,456.0 449.3,455.7 449.6,454.9 449.8,455.1 450.1,454.7 450.3,455.0 450.6,455.0 450.8,454.9 451.1,454.8 451.3,454.9 451.6,455.1 451.8,455.3 452.1,455.1 452.3,454.8 452.6,454.9 452.8,454.3 453.1,454.6 453.3,454.8 453.6,454.6 453.8,454.1 454.0,454.2 454.3,453.7 454.5,454.2 454.8,453.8 455.0,454.2 455.3,454.8 455.5,454.0 455.8,453.9 456.0,453.9 456.3,453.5 456.5,454.1 456.8,454.3 457.0,453.6 457.3,453.7 457.5,453.1 457.8,453.1 458.0,452.9 458.2,453.1 458.5,453.3 458.7,453.1 459.0,453.1 459.2,453.4 459.5,453.7 459.7,454.4 460.0,454.3 460.2,454.1 460.5,454.7 460.7,454.2 461.0,454.8 461.2,454.0 461.5,454.9 461.7,454.8 462.0,454.4 462.2,455.5 462.5,454.9 462.7,454.7 462.9,454.8 463.2,454.7 463.5,454.6 463.7,454.6 463.9,454.8 464.2,454.7 464.5,454.5 464.7,454.0 465.0,453.6 465.2,453.4 465.5,453.7 465.7,454.2 466.0,454.2 466.2,453.5 466.5,453.1 466.8,453.1 467.0,453.0 467.2,453.3 467.5,452.2 467.7,451.7 468.0,452.8 468.2,452.7 468.5,452.8 468.7,452.5 469.0,453.0 469.2,452.9 469.5,452.3 469.7,452.2 470.0,452.3 470.2,452.4 470.5,452.4 470.7,452.3 471.0,451.6 471.3,451.7 471.5,451.6 471.8,451.9 472.0,452.0 472.3,451.6 472.5,451.4 472.7,451.3 473.0,451.1 473.2,451.4 473.5,451.4 473.7,451.5 474.0,451.2 474.3,450.7 474.5,450.9 474.8,451.3 475.0,451.0 475.2,450.8 475.5,450.9 475.7,452.3 476.0,452.0 476.3,451.2 476.5,450.9 476.7,450.9 477.0,449.8 477.2,449.6 477.5,450.2 477.8,450.2 478.0,450.4 478.2,450.4 478.5,449.6 478.8,449.5 479.0,449.8 479.3,449.9 479.5,450.1 479.8,449.9 480.0,450.3 480.3,450.3 480.5,450.2 480.7,450.0 481.0,449.6 481.2,449.5 481.5,450.0 481.8,450.4 482.0,450.4 482.2,449.9 482.5,449.6 482.8,450.1 483.0,449.4 483.2,449.8 483.5,449.8 483.7,449.7 484.0,448.9 484.2,449.5 484.5,449.7 484.7,448.9 485.0,449.2 485.2,449.2 485.5,449.1 485.7,447.9 486.0,449.6 486.2,448.3 486.5,447.8 486.7,448.4 487.0,448.7 487.2,449.1 487.5,448.4 487.7,448.6 488.0,448.2 488.2,447.6 488.5,447.9 488.7,448.1 489.0,448.3 489.2,447.7 489.5,448.0 489.7,448.2 490.0,448.1 490.2,448.3 490.5,447.9 490.7,447.9 491.0,447.7 491.2,447.6 491.5,447.7 491.7,447.6 492.0,447.4 492.2,447.7 492.5,447.3 492.7,447.4 492.9,447.3 493.2,447.4 493.5,447.7 493.7,447.9 494.0,447.4 494.2,447.8 494.5,447.4 494.7,447.7 495.0,447.9 495.2,447.8 495.5,446.8 495.7,447.2 496.0,447.2 496.2,447.5 496.5,447.3 496.7,447.8 497.0,447.1 497.3,446.8 497.5,446.1 497.8,445.0 498.0,445.2 498.3,444.9 498.5,445.7 498.8,446.8 499.0,446.2 499.2,445.5 499.5,445.3 499.8,446.0 500.0,446.5 500.3,446.3 500.5,446.1 500.8,445.5 501.0,445.4 501.3,445.0 501.5,445.0 501.8,445.4 502.0,445.3 502.3,445.0 502.5,445.4 502.8,445.6 503.1,445.4 503.3,445.1 503.5,445.3 503.8,445.2 504.0,444.7 504.3,444.4 504.5,445.0 504.8,445.1 505.0,445.0 505.3,444.8 505.6,445.2 505.8,444.0 506.0,444.2 506.3,444.8 506.5,445.0 506.8,443.8 507.0,444.6 507.3,445.1 507.5,443.3 507.8,443.1 508.0,443.2 508.3,442.7 508.5,443.9 508.8,442.8 509.0,444.3 509.3,443.7 509.5,442.8 509.8,443.9 510.0,443.7 510.3,443.5 510.5,444.6 510.8,444.5 511.0,443.7 511.3,442.8 511.5,442.7 511.8,443.0 512.0,442.5 512.3,443.5 512.5,443.5 512.8,442.4 513.0,442.5 513.3,442.6 513.5,442.1 513.7,442.5 514.0,442.8 514.3,442.8 514.5,442.7 514.8,442.6 515.0,442.5 515.3,442.6 515.5,443.3 515.8,443.3 516.0,443.4 516.3,443.1 516.5,443.4 516.8,443.0 517.0,443.6 517.3,443.9 517.5,442.8 517.8,442.6 518.1,443.1 518.3,443.5 518.5,443.0 518.8,443.6 519.1,443.1 519.3,443.2 519.5,443.5 519.8,444.1 520.0,444.7 520.4,443.9 520.6,444.4 520.8,445.3 521.0,445.2 521.3,444.4 521.6,445.2 521.8,444.6 522.1,444.7 522.3,445.2 522.6,445.9 522.9,445.7 523.1,445.8 523.3,445.8 523.6,445.9 523.9,445.3 524.1,444.8 524.4,445.3 524.6,445.7 524.9,444.3 525.1,444.3 525.4,443.9 525.7,444.2 525.8,444.7 526.2,445.1 526.3,444.8 526.6,445.6 526.8,444.9 527.1,443.9 527.4,444.5 527.6,444.1 527.9,443.9 528.1,443.3 528.4,443.5 528.7,443.6 528.9,443.6 529.1,443.3 529.4,443.4 529.6,443.4 529.9,443.5 530.1,444.0 530.4,443.9 530.6,444.0 530.9,442.8 531.1,443.9 531.4,443.8 531.6,443.1 531.9,442.7 532.1,443.0 532.4,443.2 532.6,443.3 532.9,444.1 533.1,444.1 533.4,443.2 533.6,442.3 533.8,441.9 534.1,441.4 534.4,442.2 534.6,443.4 534.8,443.4 535.1,443.1 535.3,442.4 535.6,441.6 535.8,441.8 536.1,441.8 536.3,441.7 536.6,442.1 536.8,441.6 537.1,442.0 537.3,442.1 537.6,441.5 537.8,442.1 538.0,442.3 538.3,441.8 538.5,442.0 538.8,442.1 539.0,442.7 539.3,442.2 539.5,442.0 539.8,442.2 540.0,442.4 540.3,442.4 540.5,441.3 540.8,441.7 541.0,442.0 541.3,442.4 541.5,440.2 541.7,441.9 542.0,440.6 542.2,441.4 542.5,440.9 542.7,441.4 543.0,442.8 543.2,441.9 543.5,442.3 543.7,441.9 544.0,442.1 544.2,441.9 544.5,441.8 544.7,441.7 545.0,441.8 545.2,441.6 545.4,441.7 545.7,442.2 545.9,442.4 546.2,441.6 546.4,441.1 546.7,441.8 546.9,442.5 547.2,443.1 547.4,443.1 547.7,442.1 547.9,441.8 548.2,442.1 548.4,442.5 548.7,442.3 548.9,442.4 549.2,442.9 549.4,443.0 549.7,443.6 549.9,443.4 550.1,443.6 550.4,443.7 550.7,443.9 550.8,444.2 551.1,443.6 551.4,444.1 551.6,445.3 551.9,445.1 552.2,444.9 552.4,445.0 552.6,445.7 552.9,445.7 553.1,445.4 553.4,445.3 553.6,446.0 553.9,446.0 554.1,445.9 554.4,446.1 554.6,445.7 554.8,446.2 555.1,446.6 555.4,445.3 555.6,444.5 555.8,443.9 556.1,444.5 556.4,444.1 556.6,444.3 556.9,444.3 557.1,444.8 557.4,444.2 557.7,443.9 557.9,443.7 558.2,444.3 558.4,443.9 558.7,443.6 558.9,443.6 559.2,443.4 559.5,443.5 559.7,443.6 559.9,443.1 560.2,443.5 560.5,444.1 560.7,444.0 560.9,443.7 561.2,443.6 561.4,443.5 561.6,444.1 561.9,445.5 562.2,445.4 562.4,444.9 562.7,444.2 563.0,445.5 563.2,444.8 563.5,445.4 563.7,445.5 564.0,446.4 564.2,447.1 564.4,447.5 564.6,447.8 564.9,447.3 565.2,447.1 565.5,447.3 565.7,447.7 566.0,447.3 566.2,447.4 566.4,447.4 566.7,447.3 567.0,447.6 567.2,446.9 567.5,446.3 567.7,446.6 567.9,445.6 568.2,444.5 568.5,444.2 568.6,444.4 568.9,445.3 569.2,445.1 569.4,445.6 569.6,445.0 569.9,445.2 570.1,444.8 570.4,444.7 570.7,444.6 570.9,444.5 571.2,444.8 571.4,444.7 571.7,445.1 571.9,444.4 572.2,443.9 572.4,444.1 572.7,444.4 572.9,444.3 573.2,444.8 573.4,445.5 573.7,444.9 573.9,444.8 574.2,444.5 574.4,444.2 574.7,444.3 575.0,444.9 575.2,444.8 575.5,444.8 575.7,445.3 576.0,444.7 576.2,444.9 576.5,445.0 576.7,444.4 577.0,444.3 577.2,444.5 577.5,444.9 577.7,444.4 578.0,444.5 578.2,445.1 578.5,445.2 578.7,444.6 579.0,444.5 579.3,444.7 579.5,444.5 579.7,444.1 580.0,444.0 580.3,443.8 580.5,443.7 580.7,443.8 581.0,443.2 581.2,442.8 581.5,443.1 581.7,442.5 582.0,442.7 582.2,442.5 582.5,441.7 582.7,442.4 582.9,442.1 583.2,442.3 583.4,442.4 583.7,441.9 583.9,442.4 584.2,442.4 584.4,442.0 584.6,442.2 584.9,441.6 585.2,441.9 585.4,442.2 585.7,442.0 585.9,442.1 586.2,442.3 586.4,442.6 586.7,442.2 586.9,441.5 587.2,441.9 587.4,441.7 587.7,442.5 587.9,442.3 588.2,441.7 588.4,442.5 588.7,442.2 588.9,442.2 589.2,441.5 589.4,442.4 589.7,442.9 589.9,442.7 590.2,442.6 590.5,442.4 590.7,442.2 590.9,442.2 591.2,442.1 591.4,441.8 591.7,441.9 591.9,440.9 592.2,440.5 592.4,442.1 592.7,441.7 592.9,440.1 593.2,438.7 593.4,439.4 593.7,440.3 593.9,441.1 594.3,441.0 594.5,440.4 594.7,439.8 594.9,440.6 595.2,440.9 595.4,441.3 595.7,440.5 595.9,439.2 596.2,439.7 596.5,440.7 596.7,440.2 596.9,439.0 597.2,439.2 597.4,439.1 597.6,438.5 597.9,437.9 598.1,437.9 598.4,438.5 598.6,438.8 598.9,439.1 599.2,438.6 599.4,438.2 599.7,438.3 599.9,438.7 600.2,438.1 600.4,438.4 600.6,437.9 600.9,438.2 601.1,437.7 601.4,438.1 601.7,438.3 601.9,439.1 602.2,438.1 602.4,437.7 602.7,437.7 602.9,436.7 603.2,438.1 603.4,437.2 603.7,436.8 603.9,437.9 604.2,437.1 604.4,437.0 604.7,438.3 604.9,437.8 605.2,438.0 605.4,436.1 605.7,437.0 605.9,437.0 606.2,436.4 606.4,437.0 606.7,437.1 606.9,437.3 607.2,436.6 607.4,437.4 607.7,437.8 608.0,436.7 608.2,436.4 608.4,436.5 608.7,436.4 609.0,435.8 609.2,436.3 609.4,436.1 609.7,436.1 610.0,436.4 610.2,436.4 610.5,436.3 610.7,436.4 610.9,436.6 611.2,436.1 611.5,436.6 611.7,436.2 612.0,436.0 612.2,436.3 612.5,436.4 612.7,435.9 613.0,435.8 613.2,436.7 613.5,436.4 613.7,435.4 614.0,435.0 614.2,434.5 614.5,435.0 614.7,435.2 614.9,434.2 615.3,434.4 615.5,434.5 615.7,434.1 616.0,435.2 616.2,435.2 616.5,434.6 616.7,434.3 616.9,434.7 617.2,435.2 617.5,435.0 617.7,434.9 618.0,434.4 618.2,433.7 618.5,434.0 618.7,433.6 619.0,433.4 619.3,433.4 619.5,432.7 619.7,433.8 620.0,433.6 620.2,433.1 620.5,432.7 620.8,433.0 621.0,433.1 621.2,432.8 621.5,432.9 621.7,432.9 622.0,432.5 622.2,432.6 622.6,432.1 622.8,432.9 623.0,432.7 623.3,432.0 623.5,433.2 623.8,432.0 624.1,432.5 624.3,431.3 624.5,431.2 624.8,431.3 625.1,431.9 625.3,430.9 625.5,430.7 625.8,430.4 626.0,430.3 626.3,429.9 626.5,431.7 626.8,430.8 627.1,429.7 627.3,429.9 627.6,431.2 627.9,431.0 628.1,430.1 628.4,430.5 628.6,430.0 628.9,429.9 629.1,429.5 629.4,430.4 629.6,430.7 629.8,430.5 630.1,430.5 630.4,430.8 630.6,430.8 630.9,431.2 631.1,430.4 631.3,431.0 631.6,431.3 631.9,431.1 632.0,432.4 632.3,430.0 632.5,430.2 632.8,429.8 633.0,430.7 633.4,431.8 633.6,432.7 633.8,432.1 634.0,432.1 634.3,432.4 634.5,432.3 634.7,432.5 635.0,432.7 635.2,432.3 635.5,431.5 635.7,432.2 636.0,433.2 636.2,431.6 636.5,432.4 636.7,433.0 637.0,432.5 637.2,431.8 637.5,431.6 637.7,432.0 638.0,431.1 638.2,432.5 638.5,432.3 638.7,432.8 639.0,432.2 639.2,432.2 639.5,431.7 639.7,431.9 640.0,431.4 640.2,431.8 640.4,432.2 640.7,432.1 641.0,432.2 641.2,431.7 641.4,431.7 641.7,432.3 642.0,431.5 642.2,431.0 642.4,431.4 642.7,431.4 643.0,431.3 643.2,431.2 643.5,431.3 643.7,431.4 644.0,431.1 644.2,430.3 644.4,431.2 644.8,430.6 645.0,431.3 645.2,432.0 645.5,430.7 645.8,430.3 646.0,429.1 646.3,428.9 646.5,428.3 646.8,429.1 647.0,429.2 647.3,430.7 647.6,431.3 647.8,431.4 648.0,429.8 648.3,429.7 648.5,429.0 648.8,429.5 649.1,429.7 649.3,429.7 649.5,429.9 649.8,430.9 650.1,430.2 650.3,429.9 650.6,430.3 650.9,429.8 651.1,430.5 651.3,429.5 651.6,431.3 651.8,432.1 652.1,431.7 652.3,432.2 652.5,431.7 652.9,430.4 653.1,431.0 653.3,429.9 653.6,432.0 653.8,430.6 654.1,431.1 654.3,431.2 654.6,431.9 654.9,431.6 655.2,432.1 655.4,432.2 655.6,432.6 655.9,434.0 656.0,434.0 656.5,434.5 656.6,434.4 656.8,433.8 657.3,435.2 657.3,435.6 657.5,436.0 658.1,436.4 658.2,437.1 658.4,437.8 658.7,437.9 659.0,437.8 659.1,437.6 659.5,437.5 659.5,435.5 660.1,435.1 660.3,435.3 660.5,435.6 660.6,434.8 661.0,434.9 661.2,434.9 661.6,434.1 661.8,434.1 662.0,432.3 662.2,431.6 662.5,432.1 662.7,432.5 662.9,431.9 663.2,432.1 663.4,431.7 663.7,431.4 663.9,431.1 664.1,431.2 664.5,432.3 664.7,431.9 664.9,432.5 665.2,431.3 665.4,432.1 665.7,431.1 665.9,430.1 666.1,430.5 666.4,431.2 666.6,431.8 666.9,430.5 667.2,429.9 667.4,429.9 667.6,430.4 667.8,430.9 668.1,430.5 668.3,430.9 668.6,430.4 668.8,429.8 669.1,429.8 669.3,431.0 669.6,430.3 669.8,429.8 670.1,430.4 670.3,430.1 670.6,429.4 670.8,429.5 671.1,429.5 671.3,430.9 671.5,431.4 671.8,432.4 672.0,432.0 672.3,431.9 672.5,431.4 672.8,432.3 673.0,430.7 673.3,431.6 673.5,431.2 673.8,431.1 673.9,430.9 674.2,430.6 674.4,431.2 674.7,429.3 675.0,429.9 675.2,430.0 675.4,429.6 675.7,430.0 676.0,430.2 676.1,428.8 676.6,427.6 676.7,427.6 677.0,428.3 677.2,430.8 677.4,429.5 677.7,429.1 678.0,428.1 678.2,428.7 678.4,428.2 678.7,427.5 678.9,427.8 679.1,427.3 679.4,427.9 679.6,427.6 679.9,428.7 680.1,429.0 680.4,428.7 680.6,427.5 680.9,428.9 681.1,428.6 681.4,429.6 681.6,427.7 681.9,426.6 682.1,425.4 682.4,428.4 682.6,427.6 682.9,427.2 683.1,428.7 683.4,428.6 683.6,429.3 683.9,428.0 684.1,427.8 684.4,428.5 684.6,427.7 684.9,427.9 685.1,428.4 685.4,428.3 685.6,427.8 685.8,427.3 686.1,426.9 686.4,427.1 686.6,427.0 686.9,426.8 687.1,427.1 687.3,426.6 687.5,426.3 687.9,426.8 688.1,426.2 688.3,425.5 688.7,424.2 688.8,427.4 689.2,425.2 689.3,425.5 689.7,423.4 690.0,422.2 690.2,422.8 690.4,423.4 690.6,423.5 690.9,424.6 691.1,424.0 691.4,423.2 691.8,423.2 691.9,423.8 692.2,424.3 692.4,423.5 692.7,422.3 692.9,422.1 693.3,421.6 693.5,421.8 693.7,421.8 693.9,423.0 694.5,424.4 694.6,425.4 694.5,427.3 694.7,428.4 695.1,429.8 695.1,431.6 695.6,433.5 695.6,433.1 695.9,434.6 696.9,436.8 696.2,437.5 696.7,438.1 697.3,438.2 697.4,440.6 697.7,441.3 698.1,441.3 698.2,440.1 698.5,439.7 698.8,438.3 699.1,438.0 699.1,436.6 699.4,436.4 699.7,436.7 699.9,437.5 700.3,436.4 700.5,435.0 700.7,435.1 700.9,433.7 701.3,433.3 701.6,432.8 701.5,431.1 701.9,431.6 702.7,429.2 702.2,428.2 702.5,428.7 703.2,427.3 703.6,426.4 703.8,426.1 703.7,425.5 704.0,425.3 704.2,424.9 704.5,424.6 704.7,425.2 704.9,424.3 705.2,425.6 705.5,425.0 705.8,425.5 706.0,425.6 706.3,424.7 706.6,422.7 706.7,421.9 707.0,423.3 707.3,423.9 707.6,424.7 707.9,423.7 708.0,423.0 708.3,423.0 708.6,423.1 708.8,422.8 709.0,423.5 709.4,423.9 709.6,423.0 709.9,421.7 710.0,424.4 710.3,424.3 710.6,422.7 710.8,421.9 711.2,420.4 711.4,420.8 711.6,421.1 711.8,419.9 712.2,420.8 712.4,420.1 712.7,419.9 712.9,420.4 713.2,420.3 713.4,420.1 713.6,420.4 713.9,420.9 714.2,421.7 714.5,420.8 714.7,421.1 714.9,420.4 715.2,419.9 715.4,421.8 715.7,421.8 716.0,422.4 716.2,423.1 716.5,421.9 716.7,420.4 717.0,421.4 717.3,421.8 717.5,422.2 717.7,422.1 718.0,421.1 718.3,421.1 718.3,421.1 719.0,420.9 719.1,420.8 719.4,419.3 719.3,418.4 719.8,417.4 720.0,416.8 720.3,416.7 720.5,416.3 720.8,416.2 721.1,416.2 721.3,416.1 721.4,414.9 721.8,414.9 722.0,414.8 722.4,413.8 722.6,413.9 722.8,415.5 723.0,417.3 723.4,416.9 723.6,414.9 723.7,414.0 724.0,414.3 724.3,415.5 724.6,414.1 724.8,413.4 725.0,413.0 725.2,411.9 725.6,413.2 725.8,413.0 726.0,412.9 726.3,412.7 726.5,411.7 726.8,411.3 727.1,410.9 727.4,411.0 727.5,411.3 727.8,412.6 728.0,413.0 728.4,413.3 728.5,412.1 728.8,410.5 729.0,411.0 729.4,409.5 729.5,411.0 729.7,412.2 729.9,412.1 730.2,412.6 730.5,412.5 730.8,411.5 731.0,409.7 731.3,408.8 731.5,408.6 731.8,408.7 732.0,408.1 732.2,408.3 732.5,408.1 732.7,408.5 732.9,408.6 733.2,408.4 733.5,408.3 733.7,407.7 734.0,407.6 734.1,407.3 734.5,406.2 734.7,407.1 735.0,406.8 735.3,406.0 735.4,406.6 735.8,407.1 735.9,406.2 736.1,405.5 736.5,406.1 736.7,406.3 736.9,407.8 737.1,405.8 737.4,406.4 737.7,406.1 737.9,406.6 738.2,405.5 738.5,405.7 738.6,405.4 738.9,406.4 739.2,405.5 739.5,405.2 739.7,405.6 740.0,405.2 740.3,404.9 740.4,405.3 740.6,406.1 741.0,404.8 741.1,404.8 741.6,406.2 741.7,404.1 741.9,403.3 742.2,404.7 742.5,404.0 742.8,402.4 743.1,402.0 743.2,402.0 743.5,404.1 743.7,402.7 744.1,403.2 744.2,403.3 744.4,401.9 744.7,402.0 745.0,401.7 745.2,401.9 745.4,401.2 745.7,402.1 746.0,401.9 746.3,400.8 746.6,404.3 746.9,403.9 747.1,403.6 747.3,403.3 747.4,403.9 747.8,403.7 748.0,403.8 748.3,402.2 748.5,403.1 748.8,403.3 748.9,403.5 749.3,402.2 749.5,402.6 749.9,402.4 750.1,399.0 750.3,401.7 750.6,401.9 750.8,402.3 751.1,401.3 751.3,400.6 751.5,400.8 751.8,401.6 752.1,400.6 752.4,400.2 752.6,401.0 752.8,400.8 753.1,400.4 753.3,399.8 753.6,400.2 753.8,401.6 754.1,402.6 754.3,400.8 754.6,399.8 754.8,399.8 755.1,401.4 755.3,400.7 755.6,400.2 755.8,399.9 756.1,400.7 756.3,401.0 756.6,400.3 756.9,400.1 757.1,401.6 757.3,403.4 757.4,402.6 757.8,402.2 758.3,403.6 758.2,403.4 758.5,403.3 758.8,403.3 759.1,403.0 759.3,403.5 759.6,403.0 760.0,404.9 760.0,405.0 760.3,404.8 760.6,405.5 760.9,406.5 761.2,404.9 761.4,404.1 761.7,404.2 761.9,407.0 762.2,406.2 762.4,405.9 762.6,408.5 762.9,406.9 763.2,406.5 763.4,406.3 763.7,405.6 764.0,407.4 764.3,406.3 764.2,406.5 764.6,407.7 764.8,408.8 765.2,409.9 765.5,410.1 765.6,409.7 766.1,410.6 766.6,410.4 766.2,412.5 766.6,413.1 766.8,412.8 767.1,413.6 767.4,413.0 767.6,413.8 768.0,415.1 768.1,413.9 768.3,414.5 768.5,414.4 768.7,415.0 769.4,416.0 769.6,415.6 769.5,416.2 769.8,416.0 770.2,416.4 770.3,417.4 770.6,416.5 770.9,417.9 771.1,417.6 771.2,417.4 771.7,416.6 772.0,415.5 771.9,415.0 772.3,414.4 772.5,415.4 772.8,413.0 773.4,413.9 773.6,412.5 773.6,413.3 773.7,412.2 774.2,411.4 774.4,411.7 774.6,412.3 774.8,411.1 775.2,411.9 775.3,411.5 775.5,411.9 775.7,412.7 775.9,414.3 776.0,413.6 776.7,412.9 776.8,414.6 777.2,416.0 777.3,415.5 778.0,416.4 777.9,416.4 778.3,417.4 778.5,418.0 778.6,417.5 778.9,417.2 779.2,419.4 779.4,419.4 779.7,419.4 779.8,419.1 780.1,418.2 780.3,418.2 780.6,417.8 780.8,416.5 781.2,416.0 781.5,417.6 781.6,416.9 781.8,415.0 782.3,417.0 782.4,416.5 782.7,415.9 783.0,415.5 783.2,414.4 783.5,414.2 783.8,413.2 783.9,413.5 784.2,413.6 784.4,413.4 784.6,413.0 784.9,413.0 785.2,413.0 785.4,413.7 785.7,411.9 785.9,411.6 786.2,413.7 786.4,412.0 786.7,410.5 786.9,411.7 787.2,412.2 787.4,412.7 787.6,411.4 788.0,410.1 788.3,410.7 788.4,411.2 788.8,409.7 789.0,410.5 789.2,409.8 789.4,410.7 789.8,411.0 789.9,410.4 790.3,410.5 790.5,410.2 790.7,410.1 791.0,411.1 791.3,410.6 791.5,410.6 791.7,410.6 791.9,411.3 792.2,409.7 792.6,412.1 792.8,414.2 793.0,414.7 793.2,413.1 793.5,412.1 793.7,412.2 793.9,412.3 794.2,413.0 794.4,413.0 794.7,412.4 794.9,412.8 795.1,411.6 795.5,410.5 795.7,410.9 796.0,412.2 796.2,412.2 796.5,409.9 796.8,410.2 796.9,409.3 797.1,411.9 797.6,411.1 797.7,410.3 798.0,408.0 798.3,408.4 798.4,408.8 798.7,409.3 799.0,408.8 799.2,409.3 799.5,409.2 799.7,408.5 800.0,408.7 800.2,408.4 800.5,408.4 800.7,407.6 800.9,407.8 801.3,407.4 801.4,407.2 801.7,406.9 801.9,407.6 802.1,405.1 802.5,405.8 802.6,405.3 802.9,405.2 803.2,404.5 803.5,404.0 803.7,403.6 804.1,403.9 804.3,405.8 804.5,404.2 804.8,404.9 804.9,403.0 805.3,402.8 805.4,403.5 805.7,404.5 805.9,404.5 806.2,402.9 806.5,403.8 806.7,403.3 807.0,404.5 807.2,404.5 807.5,405.8 807.8,405.2 808.0,404.0 808.3,402.2 808.5,404.4 808.8,405.3 808.9,403.7 809.3,404.7 809.5,405.5 809.8,404.1 810.0,403.9 810.3,404.0 810.5,404.0 810.8,404.8 811.3,405.3 811.2,407.0 811.5,407.9 811.7,407.9 811.8,407.6 812.2,409.6 812.4,409.5 812.6,409.2 813.2,408.7 813.1,409.5 813.4,410.1 813.8,409.8 814.1,409.8 814.3,408.7 814.6,408.1 815.1,408.6 815.5,408.1 815.7,406.3 815.7,405.8 815.8,405.5 816.1,404.3 816.3,406.6 816.6,405.2 816.8,405.0 817.1,404.0 817.4,404.1 817.5,402.5 817.8,402.1 818.1,401.8 818.3,402.1 818.5,403.4 819.0,403.4 819.1,403.6 819.0,402.5 819.4,399.1 819.9,400.0 820.2,399.4 820.5,399.7 820.4,397.2 820.6,396.6 820.9,399.0 821.2,397.4 821.4,398.0 821.8,397.9 821.8,396.8 822.2,396.5 822.4,395.8 822.6,397.0 823.0,395.5 823.1,395.6 823.5,396.7 823.6,396.3 823.7,394.7 824.2,395.2 824.4,393.8 824.5,398.2 824.9,394.2 825.1,393.7 825.4,394.5 825.7,395.1 825.9,395.3 826.2,392.7 826.4,392.2 826.6,393.2 826.8,392.9 827.1,393.2 827.4,392.5 827.5,392.4 827.9,392.4 828.1,394.0 828.4,394.0 828.6,394.5 828.9,392.3 828.9,392.4 829.3,394.4 829.6,394.5 829.9,394.1 830.1,394.3 830.3,393.9 830.6,394.0 830.9,395.6 831.1,395.4 831.2,395.4 831.7,395.6 831.5,396.7 832.0,395.2 832.1,395.3 833.1,393.5 832.4,394.0 833.4,392.8 833.4,391.2 833.2,391.1 834.1,389.9 833.9,391.3 834.1,391.6 834.5,390.5 834.8,388.4 834.6,388.0 835.2,387.5 835.5,387.7 835.7,387.2 835.7,387.2 836.3,389.0 836.5,389.5 836.7,389.7 836.8,388.5 837.5,389.6 837.8,390.5 837.7,389.2 838.2,389.7 838.2,392.4 838.5,392.6 838.8,392.1 839.0,391.6 839.4,390.6 839.7,391.2 839.4,391.3 840.0,391.8 840.3,388.0 840.8,390.1 840.9,388.4 841.0,389.2 841.3,388.6 841.6,389.3 841.5,388.2 842.2,389.6 842.2,387.9 842.3,388.3 843.0,388.0 842.9,387.4 843.2,386.7 843.5,387.8 843.7,387.3 843.8,386.8 844.0,384.7 844.4,386.0 844.4,387.0 845.2,385.0 844.9,383.6 845.4,382.8 845.9,383.4 846.2,385.3 846.1,385.1 846.3,383.5 846.8,384.6 846.9,383.6 847.2,383.5 847.4,382.8 847.7,382.2 847.9,382.5 848.2,383.0 848.4,383.1 848.7,384.4 848.9,385.0 849.2,384.5 849.4,381.9 849.7,380.7 849.9,382.7 850.1,382.6 850.4,381.8 850.6,379.9 850.9,382.0 851.1,381.8 851.4,382.0 851.6,381.8 851.9,382.6 852.1,382.2 852.4,381.6 852.5,383.6 852.9,381.3 853.1,381.9 853.4,381.5 853.6,378.8 854.0,380.6 854.1,382.3 854.5,379.4 854.6,380.8 855.0,381.5 855.0,380.5 855.4,380.0 855.5,380.4 855.9,380.1 856.3,379.8 856.0,384.0 856.4,385.3 856.8,385.5 856.9,386.5 857.2,386.4 857.6,385.6 857.8,387.0 857.6,388.6 858.8,387.2 859.2,388.7 858.9,388.0 859.8,390.1 859.1,390.7 859.5,392.3 860.0,391.7 859.7,391.0 860.2,393.9 860.5,394.4 860.9,393.2 861.2,393.4 861.0,390.8 861.4,391.4 862.2,389.0 863.2,389.7 861.8,386.6 862.6,385.2 863.2,384.4 863.2,382.1 863.2,383.3 863.4,381.3 863.7,381.9 864.3,380.5 864.1,381.5 864.2,381.4 864.6,379.1 865.0,380.0 864.9,378.7 865.8,376.7 865.6,378.2 866.1,379.5 866.2,378.2 866.5,377.8 866.8,378.2 867.0,379.1 867.1,377.4 867.5,376.0 867.8,376.3 867.8,376.6 868.0,375.7 868.2,376.1 868.5,374.5 868.9,373.6 869.1,376.1 869.4,372.9 869.8,374.2 870.2,374.0 870.2,374.6 870.3,374.5 870.6,373.1 870.9,372.3 871.3,372.4 871.6,371.6 871.8,370.3 871.8,368.5 872.1,370.9 872.4,370.9 872.6,370.9 872.9,369.0 873.0,369.6 873.7,370.3 873.6,367.4 873.9,367.8 874.0,368.5 874.4,368.5 874.8,368.3 874.8,368.3 875.2,367.1 875.4,367.8"/>
<polyline class="ln" stroke="#ff0a8f" points="51.0,457.1 51.3,457.0 51.5,457.3 51.7,457.3 52.0,457.7 52.3,458.1 52.5,458.0 52.8,457.6 53.0,457.2 53.3,457.8 53.6,457.7 53.8,457.9 54.1,458.0 54.3,458.0 54.6,458.6 54.8,458.4 55.1,458.3 55.3,458.7 55.6,458.4 55.8,457.8 56.1,458.2 56.3,457.8 56.6,458.1 56.8,457.9 57.1,458.0 57.3,457.8 57.5,458.3 57.8,457.9 58.0,458.0 58.3,457.7 58.5,457.6 58.8,457.7 59.0,457.6 59.2,457.6 59.5,457.9 59.8,457.5 60.0,457.6 60.3,457.8 60.5,457.8 60.8,458.4 61.0,457.6 61.3,456.8 61.5,457.5 61.8,457.5 62.0,458.1 62.3,457.8 62.5,456.9 62.8,456.7 63.0,456.8 63.3,457.0 63.5,456.8 63.8,456.9 64.0,456.6 64.3,456.7 64.5,457.1 64.8,456.7 65.0,456.2 65.3,456.1 65.5,457.1 65.8,457.3 66.0,457.0 66.3,456.7 66.5,456.1 66.8,456.6 67.0,457.0 67.3,456.6 67.5,457.2 67.8,457.2 68.0,456.1 68.3,455.8 68.5,455.9 68.8,455.2 69.0,456.2 69.3,455.8 69.5,456.2 69.8,456.2 70.0,455.8 70.3,455.9 70.5,455.7 70.8,455.6 71.0,455.7 71.2,455.8 71.5,455.8 71.8,455.8 72.0,455.7 72.3,456.4 72.5,456.4 72.8,455.8 73.0,455.7 73.3,455.9 73.5,456.3 73.8,456.2 74.0,457.0 74.2,457.9 74.5,457.2 74.8,457.5 75.0,457.4 75.2,457.8 75.5,457.7 75.7,457.8 75.9,457.9 76.2,457.8 76.4,457.6 76.7,457.5 76.9,458.2 77.2,457.9 77.5,458.4 77.7,458.5 77.9,458.5 78.2,458.9 78.4,459.0 78.6,459.0 78.9,459.0 79.1,458.9 79.4,458.8 79.6,459.0 79.9,459.3 80.1,459.2 80.4,459.6 80.6,459.4 80.9,459.2 81.1,459.0 81.4,458.4 81.6,459.0 81.9,459.4 82.1,459.2 82.4,458.9 82.6,460.1 82.9,459.5 83.1,459.5 83.4,459.9 83.6,459.6 83.9,459.1 84.1,459.1 84.4,459.4 84.6,459.8 84.9,460.3 85.1,459.8 85.4,460.0 85.6,459.7 85.9,459.9 86.1,459.8 86.4,459.9 86.6,459.8 86.8,459.9 87.1,460.1 87.3,460.5 87.6,460.3 87.8,460.4 88.1,460.5 88.3,460.9 88.6,460.5 88.8,460.4 89.1,460.7 89.3,460.9 89.6,460.8 89.8,461.0 90.1,461.0 90.3,461.3 90.6,461.7 90.8,461.3 91.0,461.8 91.3,461.9 91.5,462.2 91.8,461.9 92.0,461.8 92.3,461.3 92.5,461.4 92.8,461.8 93.0,461.8 93.3,462.5 93.5,462.2 93.8,462.1 94.0,462.2 94.3,462.0 94.5,462.2 94.8,461.9 95.0,462.0 95.3,462.0 95.5,461.9 95.7,461.9 96.0,462.2 96.3,463.0 96.5,462.2 96.8,461.8 97.0,461.0 97.3,461.0 97.6,460.9 97.8,461.1 98.0,460.8 98.3,460.8 98.5,460.9 98.8,461.1 99.0,461.3 99.3,461.0 99.5,461.3 99.8,461.3 100.0,461.2 100.3,461.8 100.5,462.3 100.8,462.4 101.0,461.6 101.2,461.5 101.5,461.9 101.8,462.2 102.0,462.2 102.3,462.5 102.5,462.7 102.7,462.7 103.0,463.3 103.2,463.4 103.5,463.2 103.7,463.5 104.0,463.3 104.2,463.8 104.5,463.9 104.7,464.1 105.0,464.0 105.2,464.0 105.4,464.2 105.7,464.1 105.9,464.0 106.2,464.0 106.4,463.8 106.7,463.8 106.9,464.0 107.2,464.0 107.4,464.1 107.7,463.7 107.9,463.7 108.2,463.8 108.5,463.8 108.7,464.1 108.9,463.9 109.2,463.2 109.4,463.3 109.7,463.4 110.0,463.6 110.2,463.5 110.4,463.7 110.7,463.7 111.0,463.8 111.2,463.8 111.5,464.4 111.7,463.5 111.9,463.4 112.2,462.8 112.5,463.5 112.7,463.4 112.9,463.5 113.2,463.5 113.5,463.5 113.7,463.0 114.0,463.1 114.2,463.2 114.4,463.3 114.7,463.4 114.9,463.3 115.2,463.3 115.4,463.4 115.7,463.4 116.0,463.5 116.2,463.4 116.4,463.0 116.7,463.0 117.0,463.2 117.2,463.4 117.4,463.4 117.7,463.4 118.0,463.3 118.2,463.3 118.5,463.2 118.7,464.0 119.0,463.7 119.2,463.2 119.5,463.4 119.7,463.6 119.9,463.8 120.2,463.6 120.5,463.8 120.7,463.1 121.0,462.8 121.2,462.9 121.5,462.9 121.7,463.1 122.0,463.3 122.2,463.6 122.4,463.4 122.7,463.3 123.0,463.2 123.2,462.8 123.5,462.9 123.7,462.9 124.0,463.0 124.2,462.9 124.5,462.8 124.7,462.9 124.9,463.1 125.2,463.0 125.5,462.7 125.7,462.7 125.9,462.8 126.2,462.9 126.5,462.9 126.7,463.0 127.0,463.3 127.2,463.4 127.5,463.5 127.7,463.7 128.0,463.9 128.2,464.1 128.4,464.6 128.7,464.3 129.0,464.1 129.2,464.3 129.4,464.0 129.7,464.4 129.9,464.5 130.2,464.7 130.4,465.4 130.7,465.5 130.9,465.7 131.2,465.3 131.4,465.6 131.7,465.1 131.9,465.4 132.2,465.8 132.5,466.4 132.7,466.5 133.0,466.2 133.2,466.4 133.5,466.3 133.7,466.4 134.0,466.3 134.2,466.4 134.5,466.4 134.7,466.9 135.0,467.0 135.2,466.7 135.5,466.8 135.7,466.9 136.0,467.2 136.2,467.1 136.5,467.0 136.7,466.7 137.0,466.4 137.2,466.6 137.5,466.4 137.7,466.8 138.0,466.8 138.2,466.8 138.5,466.7 138.7,466.7 139.0,467.0 139.2,466.9 139.5,466.8 139.7,466.6 140.0,466.6 140.2,466.6 140.5,466.7 140.8,466.9 141.0,466.5 141.2,466.6 141.5,466.9 141.7,466.8 142.0,466.8 142.2,467.3 142.5,466.8 142.7,466.7 143.0,466.7 143.2,466.8 143.5,467.0 143.8,466.8 144.0,466.5 144.2,466.3 144.5,466.6 144.8,466.5 145.0,466.4 145.2,466.4 145.5,466.5 145.8,466.4 146.0,466.4 146.3,466.3 146.5,466.4 146.8,466.4 147.0,466.7 147.3,466.8 147.5,466.6 147.8,466.3 148.0,466.6 148.3,466.5 148.5,466.7 148.8,466.8 149.0,466.3 149.3,466.5 149.5,466.2 149.8,466.3 150.0,466.7 150.3,467.0 150.5,466.6 150.8,466.4 151.0,466.6 151.3,466.7 151.5,466.8 151.8,466.7 152.0,466.7 152.3,466.8 152.5,466.9 152.8,466.7 153.0,466.7 153.3,467.1 153.5,466.2 153.8,466.4 154.0,466.5 154.3,466.1 154.5,465.9 154.8,466.2 155.0,465.9 155.3,466.2 155.5,465.9 155.8,465.6 156.0,465.9 156.2,465.7 156.5,465.7 156.7,465.6 157.0,465.4 157.2,465.3 157.5,465.2 157.7,464.8 158.0,465.1 158.2,465.0 158.5,465.2 158.7,465.4 159.0,465.2 159.2,465.2 159.5,465.2 159.7,465.3 160.0,464.5 160.2,464.7 160.5,464.6 160.7,464.5 161.0,464.5 161.2,464.2 161.5,464.2 161.7,464.1 162.0,464.1 162.2,463.9 162.5,464.1 162.7,464.3 163.0,464.0 163.2,463.6 163.5,463.4 163.7,463.9 164.0,463.8 164.2,464.2 164.5,463.4 164.7,463.8 165.0,462.9 165.2,463.2 165.5,463.7 165.7,462.8 166.0,463.3 166.2,463.1 166.5,463.0 166.7,463.0 167.0,463.3 167.2,463.5 167.5,463.8 167.7,463.4 168.0,463.6 168.2,463.2 168.5,463.1 168.7,463.1 169.0,463.1 169.3,462.9 169.5,462.7 169.8,462.8 170.0,462.8 170.3,462.9 170.5,462.8 170.8,462.6 171.0,462.4 171.3,462.0 171.5,462.2 171.8,462.3 172.0,462.3 172.3,461.9 172.5,462.5 172.8,462.1 173.0,461.7 173.3,462.2 173.5,462.5 173.8,462.2 174.1,462.0 174.3,461.5 174.6,461.4 174.8,461.4 175.0,462.5 175.3,462.1 175.6,462.0 175.8,461.3 176.1,461.2 176.3,461.6 176.6,461.0 176.8,461.4 177.1,461.1 177.3,461.3 177.6,461.4 177.8,461.3 178.1,461.4 178.3,461.2 178.6,461.2 178.8,461.2 179.1,461.1 179.3,461.0 179.6,461.0 179.8,461.2 180.1,461.3 180.3,461.2 180.6,461.2 180.8,461.2 181.1,461.3 181.3,461.3 181.6,461.1 181.8,461.0 182.1,460.9 182.3,461.2 182.6,461.6 182.8,461.5 183.1,460.9 183.3,461.4 183.6,461.8 183.8,461.6 184.0,461.4 184.3,461.3 184.5,461.3 184.8,461.5 185.0,461.5 185.3,461.3 185.5,461.3 185.8,461.2 186.0,460.9 186.3,461.0 186.5,461.3 186.8,461.2 187.0,460.9 187.3,461.2 187.5,461.1 187.8,461.3 188.0,461.3 188.3,461.2 188.5,461.3 188.8,461.3 189.0,461.3 189.3,461.4 189.5,461.1 189.8,461.3 190.0,461.3 190.3,461.6 190.5,461.6 190.8,462.2 191.0,461.4 191.3,461.2 191.5,461.0 191.8,461.2 192.0,461.1 192.3,461.2 192.6,461.1 192.8,461.7 193.1,461.7 193.3,461.7 193.6,461.4 193.8,461.0 194.1,461.3 194.3,461.8 194.6,461.3 194.8,461.2 195.1,461.0 195.3,461.3 195.6,461.0 195.8,460.6 196.1,460.7 196.3,460.7 196.6,461.0 196.8,460.7 197.1,460.9 197.3,461.0 197.6,461.0 197.8,461.1 198.1,460.5 198.3,460.4 198.6,460.5 198.8,460.6 199.1,460.7 199.3,460.8 199.6,460.6 199.8,461.5 200.1,461.2 200.3,461.2 200.6,460.4 200.8,460.8 201.1,461.0 201.3,460.8 201.6,461.2 201.8,461.2 202.1,460.6 202.3,460.3 202.6,460.9 202.8,460.6 203.1,460.6 203.3,460.2 203.6,460.4 203.8,460.0 204.1,460.2 204.3,460.5 204.6,460.6 204.8,459.9 205.1,459.9 205.3,460.0 205.6,460.0 205.8,460.1 206.1,460.1 206.3,460.2 206.6,460.1 206.8,459.8 207.1,460.0 207.3,460.3 207.6,460.1 207.8,459.9 208.1,459.9 208.3,459.9 208.6,459.9 208.8,459.8 209.1,459.8 209.3,459.7 209.6,459.8 209.8,459.5 210.1,459.4 210.3,459.8 210.6,459.9 210.8,460.0 211.1,459.9 211.3,459.6 211.6,459.9 211.8,459.8 212.1,460.0 212.3,459.5 212.6,459.3 212.8,459.9 213.1,460.6 213.3,460.5 213.6,460.5 213.8,460.5 214.1,460.4 214.4,460.5 214.6,460.0 214.9,459.8 215.1,460.6 215.4,460.1 215.6,459.7 215.9,459.7 216.1,459.3 216.4,459.4 216.6,459.4 216.9,460.1 217.1,460.1 217.4,459.8 217.6,460.2 217.9,459.9 218.1,459.8 218.4,459.7 218.6,459.9 218.9,460.0 219.1,460.1 219.4,459.9 219.6,459.9 219.9,459.9 220.2,459.9 220.4,459.9 220.6,459.4 220.9,459.6 221.1,459.7 221.4,459.7 221.6,460.0 221.9,459.8 222.1,459.8 222.4,460.0 222.6,459.5 222.9,459.2 223.1,459.4 223.4,459.2 223.6,459.6 223.9,459.5 224.1,459.2 224.4,459.2 224.6,458.8 224.9,459.0 225.1,459.0 225.4,458.8 225.6,458.4 225.9,458.6 226.1,458.3 226.4,458.4 226.6,458.6 226.9,459.2 227.1,459.0 227.4,459.1 227.6,459.1 227.9,459.1 228.1,459.0 228.4,458.7 228.6,458.4 228.9,459.0 229.1,458.5 229.4,457.9 229.6,458.3 229.9,458.3 230.1,458.4 230.4,458.2 230.6,458.3 230.9,458.0 231.1,458.0 231.4,458.0 231.6,458.1 231.9,457.8 232.1,457.8 232.4,457.7 232.6,457.9 232.9,457.9 233.1,458.2 233.4,458.2 233.6,458.4 233.9,458.0 234.1,458.2 234.4,458.2 234.6,457.8 234.9,458.2 235.1,457.5 235.4,457.7 235.6,457.5 235.9,458.1 236.1,457.4 236.4,458.3 236.6,457.4 236.9,457.7 237.1,457.6 237.4,457.2 237.7,457.5 237.9,457.8 238.2,457.6 238.4,457.0 238.7,456.9 238.9,457.8 239.2,457.4 239.4,456.9 239.7,456.3 239.9,456.8 240.2,456.8 240.4,457.4 240.7,457.6 240.9,457.3 241.2,457.4 241.4,457.7 241.7,457.4 241.9,457.3 242.2,457.3 242.4,457.1 242.7,457.1 242.9,457.1 243.2,456.9 243.4,457.2 243.7,457.1 243.9,457.1 244.2,457.2 244.4,457.1 244.7,457.2 244.9,457.4 245.2,457.2 245.4,457.5 245.7,457.0 245.9,457.0 246.2,457.0 246.4,457.2 246.7,457.2 246.9,457.6 247.2,457.7 247.4,457.2 247.7,456.9 247.9,456.6 248.2,457.0 248.4,457.2 248.7,457.0 248.9,457.5 249.2,457.4 249.4,457.1 249.7,457.1 249.9,457.5 250.2,457.8 250.4,457.4 250.7,456.7 250.9,456.7 251.2,457.3 251.4,457.0 251.7,457.7 251.9,457.4 252.2,456.9 252.4,457.1 252.7,457.0 252.9,457.2 253.2,457.1 253.4,457.3 253.7,457.2 253.9,457.5 254.2,457.6 254.4,457.5 254.7,457.7 254.9,457.7 255.2,457.8 255.4,457.8 255.7,457.6 255.9,457.6 256.2,457.7 256.4,458.0 256.7,457.9 256.9,457.6 257.2,457.4 257.4,457.1 257.7,457.6 257.9,457.6 258.2,457.1 258.5,457.2 258.7,457.1 259.0,457.1 259.2,458.0 259.5,457.7 259.7,457.8 260.0,457.8 260.2,457.8 260.5,457.5 260.7,457.6 261.0,457.2 261.2,457.3 261.5,457.8 261.7,457.8 262.0,457.9 262.3,457.9 262.5,457.7 262.7,457.7 263.0,457.8 263.2,457.3 263.5,457.8 263.7,457.6 264.0,456.8 264.2,457.4 264.5,457.0 264.7,456.4 265.0,456.2 265.2,456.3 265.5,456.0 265.7,456.1 266.0,457.3 266.2,456.7 266.5,456.8 266.7,456.9 267.0,456.3 267.2,456.3 267.5,455.4 267.7,455.4 268.0,455.6 268.2,456.0 268.5,456.1 268.7,456.0 269.0,455.6 269.2,455.5 269.5,455.3 269.7,455.1 270.0,455.6 270.2,455.6 270.4,455.4 270.7,455.4 271.0,455.2 271.2,455.2 271.5,455.1 271.7,454.9 272.0,455.1 272.2,455.0 272.5,455.1 272.7,454.3 273.0,454.6 273.2,455.0 273.5,454.8 273.7,454.3 274.0,454.1 274.2,454.7 274.5,454.3 274.7,454.4 275.0,454.6 275.2,455.1 275.5,454.1 275.7,453.9 276.0,453.9 276.3,454.3 276.5,454.2 276.8,454.0 277.0,454.1 277.3,453.8 277.5,454.2 277.8,454.2 278.0,454.4 278.3,454.0 278.5,454.6 278.8,454.5 279.0,454.4 279.3,454.2 279.5,453.9 279.8,453.8 280.1,453.9 280.3,453.9 280.5,454.1 280.8,453.3 281.1,453.8 281.3,453.8 281.6,453.7 281.8,453.8 282.1,454.1 282.3,454.1 282.6,453.8 282.8,452.9 283.1,452.8 283.3,452.5 283.6,452.7 283.8,452.2 284.1,452.3 284.3,453.0 284.5,452.7 284.8,453.4 285.1,453.1 285.3,452.6 285.6,452.0 285.8,451.9 286.1,452.0 286.3,452.1 286.6,452.8 286.8,452.1 287.1,451.8 287.3,451.5 287.6,452.1 287.8,452.1 288.1,451.8 288.4,451.4 288.6,451.3 288.8,451.1 289.1,451.2 289.3,451.1 289.6,451.5 289.8,451.7 290.1,451.3 290.3,451.6 290.6,451.8 290.8,451.9 291.1,451.7 291.3,451.8 291.6,452.6 291.8,452.0 292.0,451.7 292.3,451.9 292.5,452.4 292.8,451.8 293.1,452.0 293.3,451.8 293.5,452.7 293.8,452.6 294.0,452.7 294.3,452.7 294.5,453.2 294.8,452.8 295.0,453.0 295.2,452.7 295.5,452.8 295.8,452.2 296.0,452.8 296.2,453.2 296.5,452.2 296.8,451.7 297.0,451.8 297.3,452.5 297.5,451.3 297.8,450.8 298.1,450.9 298.3,451.5 298.6,451.1 298.8,451.2 299.1,451.0 299.4,451.0 299.6,450.6 299.9,450.9 300.1,450.9 300.4,451.3 300.6,451.3 300.8,451.5 301.1,451.4 301.3,451.1 301.6,451.4 301.8,450.8 302.1,450.9 302.3,451.0 302.6,451.2 302.8,451.4 303.1,452.1 303.4,451.7 303.6,451.8 303.8,452.3 304.1,452.0 304.3,452.1 304.6,452.5 304.8,452.0 305.1,452.7 305.3,453.0 305.6,453.4 305.8,453.1 306.1,453.5 306.4,453.4 306.6,453.5 306.8,453.6 307.1,453.8 307.4,454.1 307.6,453.6 307.9,453.7 308.1,453.2 308.4,454.1 308.6,454.7 308.9,454.6 309.1,455.1 309.4,455.0 309.6,455.5 309.9,455.4 310.1,455.1 310.4,455.5 310.7,455.4 310.9,455.8 311.1,455.5 311.4,455.2 311.6,455.6 311.9,455.5 312.1,455.8 312.4,455.9 312.7,456.0 312.9,455.8 313.1,455.9 313.4,455.9 313.6,455.5 313.8,455.3 314.1,454.8 314.4,454.2 314.6,454.2 314.9,455.5 315.1,455.1 315.3,454.7 315.6,453.8 315.9,453.9 316.1,454.0 316.3,453.5 316.6,453.8 316.8,453.9 317.1,453.6 317.4,453.1 317.6,452.9 317.8,453.4 318.1,453.2 318.3,453.0 318.6,453.2 318.8,453.2 319.0,453.2 319.3,453.3 319.5,453.5 319.8,453.5 320.0,453.4 320.3,453.7 320.5,454.4 320.8,454.6 321.0,454.8 321.2,454.9 321.5,454.4 321.7,454.5 322.0,455.1 322.2,454.8 322.5,454.8 322.8,454.5 323.0,455.2 323.2,455.9 323.5,455.4 323.7,454.4 324.0,455.0 324.2,454.7 324.5,454.9 324.7,455.3 325.0,455.3 325.2,455.9 325.4,456.3 325.7,456.3 325.9,456.5 326.2,456.7 326.4,456.6 326.7,456.5 327.0,457.0 327.2,456.9 327.4,456.7 327.7,457.1 327.9,457.5 328.2,457.2 328.4,456.9 328.7,456.5 328.9,456.4 329.2,456.9 329.4,457.3 329.6,457.5 329.9,457.6 330.2,458.2 330.4,458.6 330.6,459.8 331.0,460.2 331.2,460.7 331.5,461.3 331.6,461.7 331.9,462.8 332.2,463.4 332.5,463.4 332.7,463.5 332.9,463.4 333.2,463.8 333.4,464.2 333.7,464.1 333.9,464.0 334.2,464.2 334.5,464.1 334.7,464.7 334.9,464.5 335.2,464.7 335.5,465.0 335.7,465.2 336.0,465.2 336.2,465.1 336.5,464.8 336.7,465.1 337.0,465.0 337.2,464.8 337.5,464.8 337.7,464.8 337.9,464.5 338.2,464.7 338.4,464.7 338.7,464.5 338.9,464.2 339.2,464.0 339.5,464.5 339.7,464.7 340.0,464.9 340.2,465.2 340.4,465.0 340.7,464.6 341.0,464.7 341.3,465.4 341.4,465.2 341.7,465.5 342.0,465.4 342.2,465.4 342.5,465.7 342.7,465.9 343.0,465.8 343.2,465.9 343.5,465.7 343.7,466.2 344.0,466.4 344.3,466.5 344.5,466.9 344.7,466.6 345.0,466.3 345.3,465.9 345.5,466.0 345.7,466.0 346.0,465.7 346.3,465.7 346.5,465.1 346.7,465.2 346.9,464.5 347.3,464.2 347.5,464.0 347.7,463.4 348.0,463.5 348.2,463.4 348.5,463.4 348.8,463.2 349.0,463.0 349.3,462.8 349.5,462.9 349.8,463.0 350.0,463.6 350.3,463.2 350.5,463.5 350.8,463.3 351.0,463.0 351.3,463.0 351.5,463.1 351.7,462.8 352.0,463.5 352.2,463.0 352.5,462.9 352.7,463.0 353.0,462.6 353.2,462.5 353.5,462.4 353.8,462.0 354.0,462.5 354.3,462.4 354.5,462.5 354.8,462.5 355.0,462.3 355.3,462.2 355.5,462.3 355.7,462.0 356.0,462.0 356.2,462.2 356.5,462.1 356.7,462.0 357.0,461.8 357.2,462.0 357.5,461.8 357.7,461.6 358.0,461.3 358.2,461.2 358.5,460.2 358.7,461.1 358.9,461.9 359.2,461.4 359.5,460.9 359.7,461.1 359.9,461.1 360.2,459.9 360.5,460.3 360.7,460.6 360.9,460.6 361.2,460.4 361.4,460.2 361.7,460.1 361.9,460.3 362.2,460.4 362.4,460.4 362.7,459.7 362.9,459.3 363.2,458.8 363.4,459.4 363.6,459.2 363.9,459.2 364.2,459.1 364.4,459.1 364.6,459.0 364.9,458.8 365.2,458.8 365.4,458.9 365.7,458.8 365.9,458.6 366.2,458.3 366.4,458.6 366.7,458.6 366.9,458.6 367.2,458.7 367.4,459.2 367.7,458.4 368.0,458.8 368.2,458.3 368.5,459.2 368.7,459.2 369.0,458.6 369.2,458.5 369.5,458.4 369.7,458.4 370.0,458.4 370.2,458.7 370.5,458.6 370.7,458.5 371.0,458.2 371.2,458.0 371.5,458.5 371.7,458.5 372.0,458.4 372.2,459.4 372.5,459.6 372.7,458.8 373.0,458.2 373.2,458.7 373.5,458.8 373.7,458.5 374.0,458.5 374.2,458.6 374.5,458.6 374.7,458.4 374.9,458.5 375.2,458.1 375.4,457.9 375.7,457.7 375.9,457.3 376.2,458.1 376.4,457.2 376.7,457.2 376.9,457.2 377.2,457.4 377.4,457.3 377.7,456.7 377.9,456.6 378.2,456.3 378.4,456.4 378.7,456.5 378.9,456.6 379.1,456.6 379.4,456.6 379.7,456.4 379.9,456.6 380.1,456.7 380.4,456.5 380.6,457.0 380.8,457.3 381.1,457.4 381.4,457.8 381.6,457.9 381.9,458.3 382.1,458.2 382.3,457.7 382.6,458.4 382.8,457.9 383.1,457.5 383.3,458.4 383.6,458.5 383.8,458.6 384.1,458.6 384.3,458.9 384.5,459.0 384.8,459.0 385.1,459.2 385.3,459.6 385.6,459.6 385.8,459.9 386.0,460.0 386.3,460.1 386.5,459.9 386.8,459.7 387.0,459.9 387.3,459.8 387.6,459.6 387.8,459.3 388.1,459.4 388.3,458.7 388.6,459.1 388.8,458.7 389.1,458.7 389.3,458.5 389.5,459.2 389.8,459.4 390.1,458.7 390.3,459.0 390.6,458.6 390.8,458.6 391.1,458.5 391.3,458.2 391.5,458.7 391.8,457.8 392.1,458.2 392.3,458.4 392.6,458.2 392.8,458.3 393.1,457.8 393.3,457.8 393.5,457.7 393.8,457.5 394.1,457.4 394.3,457.4 394.6,456.9 394.8,457.1 395.1,457.5 395.3,457.1 395.6,456.7 395.8,457.1 396.1,457.2 396.3,456.7 396.6,456.4 396.8,456.7 397.0,456.6 397.3,456.1 397.5,455.9 397.8,455.4 398.1,455.5 398.3,455.2 398.6,455.7 398.8,455.8 399.1,455.4 399.3,455.2 399.5,455.5 399.8,455.4 400.1,455.2 400.3,454.9 400.6,454.9 400.8,455.3 401.0,455.1 401.3,455.6 401.6,455.3 401.8,455.0 402.1,455.2 402.3,454.9 402.6,454.5 402.8,454.7 403.0,454.9 403.3,455.0 403.6,455.3 403.8,454.5 404.1,454.2 404.3,453.9 404.6,453.6 404.8,454.1 405.0,453.5 405.3,453.5 405.6,453.9 405.8,453.9 406.1,454.0 406.3,454.1 406.5,453.8 406.8,454.1 407.1,453.8 407.3,453.7 407.6,453.5 407.8,453.6 408.1,453.4 408.3,453.4 408.6,453.3 408.8,454.0 409.1,453.5 409.3,453.5 409.6,454.1 409.8,453.6 410.1,454.2 410.3,454.2 410.6,453.5 410.8,453.9 411.1,453.7 411.3,453.9 411.6,453.5 411.8,453.8 412.1,453.0 412.3,453.6 412.6,453.0 412.8,453.2 413.1,453.7 413.3,453.4 413.6,453.9 413.8,453.9 414.1,453.5 414.3,453.7 414.6,454.0 414.8,453.7 415.1,453.4 415.3,453.7 415.6,454.0 415.8,454.1 416.1,453.6 416.3,453.5 416.6,453.6 416.8,453.6 417.1,454.0 417.3,454.1 417.6,454.0 417.8,454.6 418.1,454.3 418.3,454.3 418.6,454.4 418.8,454.6 419.1,454.4 419.3,454.2 419.6,454.3 419.8,454.3 420.1,454.3 420.3,454.5 420.6,454.9 420.8,456.1 421.1,455.8 421.4,455.7 421.6,455.8 421.9,456.4 422.1,457.2 422.4,457.8 422.6,457.7 422.9,457.8 423.1,457.6 423.4,458.4 423.6,457.6 423.9,458.1 424.1,458.0 424.4,458.2 424.6,458.1 424.9,458.3 425.1,458.3 425.4,458.7 425.6,458.4 425.9,457.9 426.1,457.9 426.4,457.8 426.6,457.9 426.9,457.5 427.1,457.8 427.4,457.8 427.6,457.2 427.8,457.4 428.1,457.6 428.4,457.5 428.6,456.9 428.8,456.4 429.1,456.8 429.4,457.0 429.7,456.3 429.9,456.8 430.1,456.7 430.4,456.1 430.6,456.1 430.9,456.5 431.1,455.7 431.4,455.7 431.7,455.8 431.9,455.5 432.1,455.3 432.4,455.2 432.7,455.0 432.9,454.9 433.1,455.0 433.4,454.6 433.6,454.5 433.9,454.5 434.2,454.3 434.4,454.3 434.7,454.7 434.9,455.1 435.2,454.8 435.4,454.4 435.7,454.0 435.9,452.9 436.2,453.5 436.4,453.6 436.7,454.7 436.9,454.2 437.2,454.1 437.5,454.0 437.7,454.1 437.9,453.3 438.2,453.2 438.4,452.9 438.7,452.4 438.9,453.3 439.2,453.4 439.4,452.8 439.7,452.9 439.9,453.1 440.2,452.3 440.5,452.6 440.7,452.1 440.9,452.2 441.2,452.6 441.5,452.3 441.7,452.4 441.9,452.3 442.2,451.9 442.4,452.4 442.7,452.7 442.9,452.8 443.2,452.6 443.4,452.7 443.7,452.2 443.9,452.6 444.2,452.7 444.4,452.5 444.6,452.6 444.9,453.7 445.2,453.4 445.4,453.1 445.7,453.5 445.9,453.2 446.1,453.8 446.4,453.7 446.6,454.5 446.9,454.5 447.1,454.7 447.4,454.4 447.6,453.9 447.9,454.4 448.1,454.3 448.3,454.2 448.6,454.3 448.8,454.0 449.1,454.3 449.4,454.2 449.6,453.4 449.8,454.2 450.1,454.2 450.3,454.2 450.6,454.4 450.8,453.5 451.1,454.1 451.3,453.6 451.6,452.8 451.8,453.2 452.0,452.9 452.3,452.0 452.6,451.8 452.8,452.5 453.1,452.6 453.3,451.9 453.6,452.4 453.8,452.4 454.0,452.4 454.3,451.9 454.5,451.6 454.8,451.2 455.0,451.7 455.3,452.4 455.5,451.5 455.8,451.2 456.0,451.5 456.3,451.7 456.5,451.8 456.8,451.0 457.0,450.4 457.3,450.9 457.5,450.7 457.7,450.8 458.0,451.1 458.3,450.9 458.5,450.8 458.7,450.9 459.0,450.8 459.2,450.9 459.5,450.9 459.7,450.3 460.0,451.0 460.2,451.1 460.5,451.3 460.7,451.4 461.0,451.9 461.2,451.7 461.5,451.3 461.7,451.7 462.0,452.4 462.2,452.1 462.5,452.4 462.7,451.8 463.0,451.4 463.2,451.9 463.4,452.0 463.7,452.0 463.9,451.7 464.2,451.9 464.5,451.8 464.7,451.2 465.0,451.4 465.2,451.4 465.5,450.9 465.7,450.9 466.0,450.6 466.2,450.6 466.5,450.7 466.8,450.4 467.0,449.7 467.2,448.7 467.4,449.8 467.7,450.4 468.0,450.4 468.2,449.7 468.5,449.9 468.7,450.0 469.0,449.2 469.2,448.9 469.5,449.7 469.8,449.4 470.0,449.4 470.2,448.8 470.5,449.2 470.7,448.7 471.0,448.5 471.3,448.5 471.5,448.4 471.7,447.9 472.0,448.3 472.2,448.2 472.5,447.9 472.7,448.1 473.0,447.7 473.3,447.7 473.5,448.3 473.8,447.5 474.0,446.7 474.2,447.0 474.5,446.9 474.7,447.4 475.0,447.8 475.3,448.3 475.5,448.0 475.8,447.5 476.0,447.5 476.2,447.8 476.5,447.1 476.7,447.4 477.0,446.9 477.3,446.5 477.5,446.1 477.8,446.2 478.0,446.1 478.3,446.5 478.5,446.1 478.8,446.1 479.0,445.9 479.3,445.6 479.5,446.1 479.8,445.6 480.0,446.0 480.3,446.3 480.5,446.5 480.7,447.1 481.0,446.3 481.3,446.3 481.5,446.5 481.8,446.8 482.0,447.6 482.3,447.8 482.5,447.1 482.8,447.0 483.0,447.3 483.2,447.5 483.5,446.5 483.7,446.6 484.0,446.9 484.3,447.2 484.5,446.7 484.8,447.1 485.0,445.7 485.2,446.8 485.5,446.5 485.8,446.3 486.0,445.9 486.2,445.7 486.5,446.0 486.7,446.0 487.0,445.9 487.2,446.0 487.5,446.2 487.8,445.8 488.0,445.3 488.3,445.2 488.5,445.3 488.7,445.4 489.0,444.8 489.2,444.5 489.4,445.0 489.7,444.9 490.0,445.1 490.2,444.2 490.5,444.2 490.7,444.5 491.0,444.4 491.2,444.0 491.4,443.6 491.7,443.7 492.0,443.7 492.2,443.6 492.4,443.8 492.7,443.6 493.0,443.3 493.2,443.1 493.5,443.1 493.7,442.7 494.0,443.4 494.2,443.2 494.5,443.4 494.7,442.8 495.0,443.6 495.2,441.6 495.5,442.8 495.7,442.1 496.0,443.0 496.2,442.7 496.5,441.6 496.7,441.4 497.0,442.7 497.3,441.2 497.5,442.0 497.8,442.5 498.0,443.0 498.2,442.7 498.5,442.4 498.8,442.4 499.0,442.8 499.3,441.3 499.5,442.2 499.8,442.6 500.0,442.7 500.3,442.4 500.5,442.0 500.8,442.6 501.0,442.1 501.3,441.9 501.5,442.0 501.8,441.2 502.0,441.2 502.3,441.3 502.5,441.1 502.8,441.0 503.0,441.1 503.3,441.2 503.6,441.0 503.8,441.0 504.0,440.6 504.3,440.7 504.6,441.2 504.8,441.1 505.0,441.6 505.3,440.2 505.5,440.4 505.8,440.4 506.0,439.9 506.3,440.4 506.5,439.6 506.8,440.2 507.0,440.2 507.3,439.4 507.5,440.0 507.8,439.6 508.0,440.3 508.3,439.3 508.5,440.8 508.7,441.7 509.0,440.0 509.3,440.8 509.5,440.6 509.8,439.9 510.0,440.4 510.3,439.6 510.5,440.6 510.8,439.4 511.0,439.2 511.2,438.5 511.5,439.6 511.8,439.5 512.0,439.0 512.3,439.4 512.5,439.6 512.8,438.4 513.0,438.8 513.2,438.4 513.5,439.4 513.7,439.1 514.0,439.0 514.3,439.0 514.5,438.3 514.7,438.3 515.0,438.6 515.3,438.6 515.5,438.4 515.8,438.7 516.0,439.1 516.3,439.1 516.5,439.8 516.8,440.2 517.0,440.0 517.3,440.2 517.5,439.9 517.8,439.6 518.0,439.2 518.3,438.5 518.5,439.5 518.8,440.2 519.1,439.5 519.3,440.1 519.6,440.3 519.8,439.7 520.1,439.6 520.3,438.5 520.6,438.7 520.8,439.8 521.1,439.6 521.3,439.5 521.6,440.5 521.8,440.3 522.1,440.3 522.3,439.7 522.6,440.1 522.8,439.7 523.1,439.6 523.4,439.5 523.6,439.4 523.9,439.9 524.1,439.3 524.3,438.6 524.6,437.9 524.9,437.7 525.1,436.4 525.4,437.3 525.6,436.9 525.9,436.8 526.1,437.5 526.4,435.8 526.6,437.5 526.9,436.8 527.1,436.8 527.4,437.5 527.6,437.6 527.9,437.5 528.1,436.6 528.4,436.4 528.6,436.0 528.9,436.0 529.2,435.9 529.4,435.7 529.6,435.6 529.9,435.7 530.1,435.9 530.4,435.4 530.6,435.9 530.9,435.9 531.1,435.6 531.4,437.1 531.6,435.8 531.9,436.1 532.1,434.5 532.4,435.7 532.6,435.2 532.9,435.6 533.1,435.5 533.3,435.4 533.6,434.9 533.8,435.5 534.1,435.6 534.3,436.0 534.6,436.6 534.8,435.9 535.1,435.5 535.3,435.0 535.6,435.1 535.8,435.1 536.1,434.4 536.3,435.1 536.6,435.1 536.8,435.3 537.1,435.0 537.3,435.5 537.6,435.3 537.8,435.0 538.1,435.4 538.3,435.2 538.5,435.4 538.8,434.6 539.0,435.7 539.3,435.3 539.5,434.8 539.8,435.1 540.0,435.0 540.3,435.1 540.5,434.4 540.8,433.5 541.0,435.2 541.2,435.6 541.5,434.4 541.8,434.6 542.0,434.7 542.2,434.4 542.4,434.4 542.7,434.3 543.0,434.0 543.3,434.3 543.5,435.0 543.7,434.3 544.0,434.6 544.2,434.1 544.4,433.6 544.7,433.0 545.0,433.1 545.2,433.4 545.4,433.8 545.7,433.5 545.9,433.2 546.2,433.4 546.4,433.6 546.7,434.2 546.9,433.1 547.2,432.6 547.4,431.8 547.7,432.8 548.0,434.3 548.1,433.1 548.4,432.9 548.7,434.6 548.9,435.1 549.2,435.2 549.4,436.3 549.7,435.8 549.9,435.2 550.0,436.2 550.4,435.3 550.7,435.0 550.9,436.6 551.2,437.0 551.4,437.1 551.6,436.9 551.8,437.3 552.1,437.4 552.4,437.5 552.5,438.2 552.8,438.7 553.1,438.1 553.3,437.4 553.6,437.4 553.8,437.2 554.0,437.1 554.4,437.3 554.5,438.0 554.6,435.7 555.1,436.9 555.3,436.7 555.6,436.3 555.8,437.0 556.0,436.2 556.3,434.9 556.7,434.8 556.9,434.0 557.2,434.8 557.4,434.9 557.6,434.5 557.9,433.9 558.1,434.6 558.4,433.6 558.6,434.1 558.9,433.5 559.1,433.6 559.4,433.9 559.6,433.8 559.9,434.2 560.1,435.0 560.4,434.7 560.6,434.5 560.8,435.4 561.1,434.4 561.4,434.7 561.6,434.6 561.8,434.8 562.1,434.9 562.4,435.1 562.5,435.1 562.8,435.0 563.2,435.6 563.3,436.5 563.7,437.1 564.0,437.1 564.1,437.2 564.6,438.1 564.6,437.1 564.9,437.7 565.2,439.4 565.4,439.5 565.7,439.2 566.0,439.8 566.2,439.9 566.4,439.5 566.7,438.9 566.9,437.5 567.1,436.9 567.4,437.2 567.8,438.2 568.0,436.9 568.1,437.0 568.5,435.5 568.7,435.6 569.1,435.4 569.2,434.9 569.4,435.1 569.7,434.6 569.9,434.7 570.2,434.4 570.5,435.0 570.7,434.3 571.0,434.1 571.2,433.2 571.4,433.5 571.7,433.8 572.0,434.7 572.2,435.3 572.4,435.9 572.7,434.5 572.9,434.5 573.2,435.0 573.4,436.5 573.7,435.0 574.0,433.7 574.2,433.4 574.5,432.5 574.7,433.3 574.9,433.3 575.2,433.4 575.4,433.1 575.7,433.9 576.0,434.0 576.2,433.4 576.4,433.4 576.7,433.4 577.0,433.2 577.2,433.1 577.5,432.5 577.7,432.8 578.0,434.2 578.2,433.8 578.5,434.3 578.7,432.9 578.9,432.2 579.2,432.5 579.5,432.7 579.6,432.9 580.0,432.9 580.2,431.9 580.5,431.9 580.7,433.6 581.0,432.7 581.2,432.1 581.5,431.4 581.7,431.3 582.0,431.3 582.3,431.5 582.5,431.1 582.7,431.2 583.0,431.9 583.2,432.1 583.5,431.0 583.7,431.0 584.0,430.6 584.3,430.3 584.5,430.0 584.8,430.6 585.0,432.2 585.3,431.7 585.5,431.8 585.8,431.6 586.0,432.2 586.2,433.6 586.5,431.4 586.8,432.5 587.0,432.7 587.3,433.8 587.5,431.7 587.8,432.9 588.0,431.5 588.3,431.8 588.5,431.7 588.8,432.1 589.0,432.6 589.2,432.4 589.5,432.3 589.8,432.4 590.0,432.2 590.3,432.3 590.5,431.9 590.8,431.4 591.0,431.4 591.2,431.3 591.5,431.5 591.8,430.9 592.0,431.4 592.2,431.1 592.5,431.4 592.6,430.5 593.0,430.5 593.2,431.0 593.5,430.5 593.7,430.4 593.9,429.2 594.2,430.7 594.5,429.9 594.7,429.2 595.0,429.5 595.2,429.5 595.5,429.4 595.6,428.7 595.9,428.5 596.2,430.3 596.4,429.3 596.6,428.2 597.0,428.8 597.2,428.9 597.5,427.2 597.7,426.8 597.9,427.4 598.2,427.2 598.4,427.4 598.7,428.1 598.9,427.9 599.2,427.8 599.4,427.4 599.6,427.5 599.9,427.1 600.2,427.6 600.4,427.4 600.6,427.0 600.9,427.4 601.1,426.6 601.4,426.7 601.6,427.5 601.9,427.2 602.2,427.2 602.4,426.8 602.7,426.6 602.9,428.5 603.2,427.4 603.4,426.8 603.7,427.3 603.9,425.3 604.1,425.2 604.5,426.2 604.7,426.4 604.9,426.0 605.2,427.3 605.4,427.7 605.7,427.6 605.9,427.5 606.2,427.2 606.4,427.3 606.7,426.5 606.9,426.7 607.2,425.2 607.4,425.7 607.7,425.5 608.0,425.0 608.2,424.6 608.4,424.4 608.7,423.8 609.0,424.3 609.2,425.0 609.5,424.7 609.7,425.3 610.0,425.1 610.2,425.2 610.4,424.8 610.7,425.3 611.0,424.8 611.2,423.7 611.5,424.5 611.7,424.5 612.0,425.0 612.2,424.6 612.5,424.3 612.7,424.0 613.0,423.3 613.2,424.0 613.4,424.3 613.7,424.4 613.9,426.2 614.3,423.4 614.4,422.2 614.7,423.1 614.9,423.9 615.3,424.9 615.5,424.8 615.7,424.1 616.0,422.6 616.2,422.5 616.5,422.2 616.8,422.8 617.0,423.9 617.3,423.8 617.5,422.7 617.7,422.7 618.0,422.2 618.3,424.0 618.4,423.6 618.8,423.1 619.0,422.7 619.2,421.8 619.5,421.6 619.8,422.0 620.0,421.9 620.3,421.8 620.5,422.9 620.8,422.0 621.0,422.0 621.2,422.0 621.5,421.8 621.8,422.0 621.9,420.7 622.3,421.1 622.4,420.0 622.6,419.6 623.0,420.3 623.2,420.0 623.4,419.5 623.6,419.7 624.1,418.1 624.2,418.3 624.5,418.9 624.8,418.6 625.0,418.7 625.3,418.5 625.5,418.2 625.7,417.5 626.0,416.7 626.4,416.2 626.6,417.1 626.9,417.6 627.1,416.1 627.5,415.5 627.7,415.9 627.8,416.6 628.1,415.0 628.3,414.0 628.6,415.0 628.8,414.5 629.1,414.8 629.4,414.1 629.7,415.0 629.9,415.5 630.2,415.7 630.2,417.5 630.6,417.2 630.7,416.6 631.0,417.1 631.2,417.0 631.5,418.2 631.7,417.3 632.0,417.3 632.3,417.8 632.5,418.1 632.7,417.7 633.0,418.5 633.2,418.0 633.4,419.2 633.7,418.1 634.1,419.3 634.3,418.4 634.5,419.3 634.8,419.2 635.0,418.9 635.2,419.3 635.4,418.6 635.8,418.9 635.9,419.5 636.2,418.3 636.5,418.3 636.7,417.5 636.9,417.4 637.2,417.1 637.4,416.6 637.7,417.8 638.0,418.0 638.2,417.0 638.5,416.8 638.8,416.1 638.9,416.4 639.2,417.6 639.4,417.0 639.8,415.9 640.0,415.5 640.2,415.4 640.5,416.5 640.7,416.3 640.9,416.2 641.2,415.7 641.4,416.1 641.7,415.2 642.0,415.0 642.2,414.7 642.4,415.4 642.6,416.1 643.0,416.1 643.2,414.9 643.3,415.7 643.6,414.2 644.0,413.6 644.1,413.0 644.4,413.4 644.7,415.7 644.9,414.4 645.2,414.2 645.4,414.1 645.7,414.2 645.9,413.2 646.1,414.0 646.4,413.3 646.7,413.0 646.9,413.6 647.1,412.5 647.4,412.6 647.6,412.3 647.9,412.3 648.2,412.2 648.4,411.0 648.7,411.6 648.9,411.4 649.2,411.5 649.4,410.5 649.7,412.6 650.0,411.5 650.2,411.3 650.5,412.9 650.7,412.3 651.0,412.6 651.2,412.1 651.5,412.9 651.7,412.3 652.0,412.3 652.2,412.6 652.4,413.3 653.0,413.6 653.0,414.5 653.3,414.2 653.4,413.9 653.6,416.4 654.0,416.5 654.1,415.3 654.6,415.8 654.7,418.1 655.1,416.5 655.2,417.8 655.6,416.3 655.7,416.6 656.0,417.7 656.2,418.1 656.5,419.0 657.3,419.4 656.8,420.0 657.1,420.1 657.5,420.5 657.5,423.0 658.1,424.3 658.1,424.8 658.5,424.9 658.7,425.1 658.9,424.4 659.1,423.1 659.5,422.1 659.6,421.4 659.9,421.0 660.5,420.9 660.4,421.2 660.8,421.6 660.8,422.3 661.5,420.9 661.6,421.0 661.9,421.0 662.1,418.8 662.3,417.6 662.5,416.8 662.7,416.4 663.0,416.6 663.1,416.7 663.4,415.9 663.7,415.2 664.0,413.7 664.3,414.7 664.4,413.9 664.7,416.1 664.9,415.8 665.1,415.8 665.3,415.5 665.7,417.3 665.9,415.4 666.2,414.6 666.2,415.1 666.7,414.1 667.0,415.2 667.1,413.6 667.4,412.8 667.6,412.2 667.8,412.4 668.1,412.3 668.3,412.6 668.6,412.4 668.8,412.2 669.1,413.3 669.3,412.6 669.6,412.7 669.8,413.5 670.1,412.3 670.3,413.6 670.6,412.9 670.8,413.5 671.0,412.0 671.3,413.3 671.5,413.0 671.8,413.6 672.1,413.9 672.3,413.8 672.5,412.2 672.8,412.1 673.0,412.5 673.3,413.1 673.5,413.0 673.7,412.2 674.0,411.5 674.2,412.3 674.5,411.2 674.8,412.0 675.0,412.7 675.3,410.5 675.6,410.8 675.9,410.7 676.0,408.8 676.2,409.5 676.5,410.7 676.8,409.7 677.0,410.1 677.2,409.2 677.5,409.0 677.8,409.3 678.0,409.5 678.3,408.4 678.5,408.2 678.8,408.5 679.0,409.2 679.2,408.5 679.5,408.6 679.8,409.7 680.0,409.5 680.2,409.3 680.5,407.8 680.8,407.1 681.0,409.6 681.2,409.7 681.5,410.6 681.8,411.8 682.0,413.0 682.3,411.6 682.5,410.0 682.8,409.7 683.0,409.3 683.3,410.0 683.6,410.6 683.8,410.4 684.0,410.5 684.3,410.3 684.6,410.1 684.8,410.1 685.0,409.1 685.3,408.5 685.7,409.5 685.8,408.3 686.0,407.9 686.2,407.8 686.6,407.3 686.8,408.9 686.8,407.0 687.3,404.8 687.6,404.6 687.7,405.7 688.0,404.9 688.4,407.8 688.3,407.5 688.8,408.4 689.2,408.0 689.3,406.1 689.5,405.1 689.7,404.7 690.0,404.3 690.3,404.5 690.4,403.2 690.8,403.4 691.0,402.9 691.2,403.3 691.4,403.5 691.7,403.2 692.0,401.2 692.2,401.6 692.7,401.1 692.9,401.0 692.7,401.8 693.3,401.3 693.6,399.3 693.7,398.8 694.1,398.8 694.4,398.6 694.6,399.8 694.8,398.8 695.1,398.9 694.9,399.9 695.6,402.0 696.1,403.8 697.0,404.8 696.0,406.8 695.8,408.4 696.4,410.7 696.9,411.0 695.8,411.5 696.4,414.6 697.0,415.4 697.8,417.9 696.7,419.8 697.4,421.4 698.5,420.8 697.4,423.4 697.7,425.8 697.9,424.6 698.3,422.8 698.3,423.6 699.5,420.9 698.6,418.8 699.7,418.2 698.3,417.4 699.4,417.5 700.2,417.2 700.6,416.3 700.5,414.2 700.7,415.0 701.2,414.6 700.9,412.3 701.4,411.9 701.8,411.0 701.9,411.4 701.9,408.4 702.7,408.6 702.5,407.5 702.7,407.1 703.1,405.9 703.7,404.8 703.7,405.4 703.9,404.8 704.2,404.0 704.5,404.3 704.8,403.4 704.9,404.4 705.2,403.2 705.5,404.5 705.6,404.4 706.1,406.0 706.2,406.3 706.4,404.9 706.8,403.9 707.0,403.2 707.4,403.5 707.5,403.3 707.8,403.1 708.0,402.9 708.3,402.4 708.6,402.2 708.7,401.8 709.0,400.4 709.3,399.4 709.7,398.2 709.8,400.5 709.9,398.7 710.4,400.1 710.7,399.1 710.7,399.6 711.0,397.6 711.5,397.3 711.5,398.2 711.9,398.3 712.0,397.3 712.4,397.6 712.6,397.0 712.9,397.6 713.1,397.1 713.4,397.9 713.6,398.0 713.9,398.0 714.1,397.4 714.5,398.7 714.8,398.4 715.0,397.4 715.2,398.4 715.5,401.2 715.9,401.6 716.0,400.3 716.2,400.0 716.6,400.4 716.8,400.4 717.0,400.4 717.2,401.2 717.5,401.2 717.9,400.8 717.4,400.4 718.0,399.5 718.8,397.2 718.6,394.0 718.6,394.9 720.3,397.1 719.5,397.2 719.3,394.8 719.9,394.2 720.3,392.0 720.5,391.8 720.8,391.4 721.0,391.0 721.3,391.2 721.7,390.7 721.9,391.0 722.1,387.9 722.3,389.4 722.6,390.4 722.6,390.5 722.9,390.8 723.4,387.9 723.7,386.9 723.8,387.4 724.1,389.3 724.6,387.2 724.6,388.9 724.7,388.4 725.0,387.7 725.3,387.7 725.5,386.9 725.8,387.3 726.0,386.4 726.3,386.6 726.5,386.9 726.7,386.1 727.1,385.9 727.3,386.5 727.6,385.3 727.9,382.3 728.0,383.3 728.4,382.4 728.5,383.1 728.6,382.9 728.8,386.2 729.1,383.1 729.4,383.1 729.6,381.2 729.8,382.3 730.0,382.3 730.4,382.6 730.7,384.9 731.0,384.1 731.3,383.9 731.6,383.2 731.8,381.1 732.0,380.7 732.2,382.4 732.5,380.3 732.7,380.3 732.9,379.3 733.2,379.6 733.4,379.5 733.6,380.6 734.0,379.1 734.3,380.1 734.3,379.9 734.6,378.3 735.0,379.0 735.2,378.2 735.6,376.8 735.5,374.6 736.0,377.2 736.4,377.3 736.4,379.1 736.6,380.3 737.2,379.1 737.0,376.8 737.4,377.1 737.5,376.8 738.0,377.9 738.2,375.5 738.5,375.3 738.7,373.4 738.9,374.4 739.2,374.2 739.4,375.3 739.7,374.7 740.0,374.4 740.2,375.1 740.6,375.5 740.7,373.4 741.0,374.1 741.3,374.1 741.5,374.6 741.7,372.3 742.0,371.1 742.2,373.4 742.4,372.9 742.5,371.0 742.9,375.5 743.3,373.3 743.5,373.1 743.6,371.7 744.0,373.6 744.1,373.3 744.5,371.5 744.7,371.9 744.9,372.5 745.2,371.0 745.6,373.0 745.7,373.5 746.0,372.5 745.9,373.6 746.2,373.6 746.4,371.4 746.7,373.3 747.2,373.8 747.6,372.9 747.7,373.9 748.0,374.7 748.3,373.1 748.2,371.7 748.9,369.0 749.6,371.3 749.0,369.1 749.1,372.3 749.4,372.3 750.3,371.5 750.3,368.5 749.7,367.3 750.8,368.4 751.2,368.0 751.2,367.4 751.6,367.1 751.7,366.4 751.9,365.7 752.2,365.8 752.4,365.5 752.6,365.8 752.9,366.5 753.4,367.8 753.3,365.4 753.8,361.9 753.8,365.8 754.0,366.4 754.6,366.9 754.8,366.5 755.0,365.1 755.2,364.4 755.4,364.1 755.6,363.3 756.0,363.8 755.9,365.2 756.4,366.3 755.8,365.6 756.5,365.9 756.6,366.4 757.3,369.8 758.8,373.3 757.6,370.9 757.7,372.9 758.5,370.8 759.1,372.4 758.6,371.7 759.1,372.0 759.4,372.2 759.6,373.8 759.8,372.4 760.1,371.7 760.4,370.2 760.5,372.8 760.9,373.3 761.0,371.4 761.3,370.7 761.5,370.5 761.7,373.0 762.1,371.4 762.2,370.0 762.5,370.1 762.8,370.1 763.2,369.7 763.2,370.1 763.9,372.7 764.6,372.2 763.7,374.0 764.4,374.5 764.4,372.8 765.0,375.8 765.4,375.2 765.0,375.2 765.3,376.5 765.4,377.6 765.8,377.6 765.9,380.6 766.5,380.3 766.8,382.2 766.9,381.2 767.5,381.9 767.6,381.4 767.6,383.4 768.0,383.4 768.4,383.5 768.6,383.8 769.0,384.5 769.0,384.0 768.9,384.4 769.5,385.0 769.7,385.4 770.3,386.1 770.2,388.5 770.1,387.3 770.8,387.1 770.6,384.9 771.4,382.9 771.5,383.3 771.6,386.1 772.5,382.7 772.8,382.9 772.2,381.2 772.6,381.3 773.5,381.3 773.2,380.1 773.3,378.9 773.7,377.0 773.7,376.9 774.1,376.7 774.5,376.6 774.8,375.5 775.2,376.7 775.2,378.6 775.7,378.6 775.3,378.5 776.4,380.1 775.8,381.4 776.4,383.5 777.3,383.9 775.4,382.8 777.6,383.4 777.0,385.4 778.2,386.7 778.0,388.0 778.3,387.3 778.6,388.8 778.8,388.4 779.1,389.9 779.4,390.2 779.5,389.4 779.7,389.4 779.9,389.6 780.6,388.1 780.6,386.4 780.7,386.0 780.7,387.4 781.8,387.8 781.9,387.3 781.9,386.2 782.2,386.3 782.2,386.2 782.6,382.3 783.4,381.3 783.0,382.1 783.5,380.9 783.8,382.0 784.0,381.9 784.3,381.1 784.5,382.1 784.9,382.7 785.0,383.7 785.4,381.8 785.6,382.4 785.6,381.2 786.1,380.0 786.2,378.9 786.6,379.2 786.7,382.7 787.0,381.8 787.2,378.2 787.3,375.4 787.8,376.6 788.1,378.9 788.3,378.9 788.5,379.3 788.9,378.0 789.0,378.2 789.2,379.0 789.5,378.1 789.8,378.2 789.9,377.5 790.2,377.9 790.4,378.3 790.7,379.1 791.1,379.9 791.1,380.5 791.5,379.7 791.6,379.7 792.0,380.0 792.3,380.5 792.5,381.5 792.6,382.2 792.9,383.2 793.2,381.0 793.4,381.3 793.8,381.8 793.9,381.8 794.2,382.5 794.5,381.0 794.7,381.3 794.8,380.4 795.5,379.3 795.6,379.7 795.5,379.1 796.0,380.0 796.3,380.8 796.5,382.4 796.5,379.7 797.1,379.2 797.1,380.3 797.6,378.8 797.6,375.6 797.9,375.7 798.4,378.7 798.2,378.5 799.0,378.0 799.0,375.8 799.2,376.9 799.3,376.5 799.7,375.8 799.9,375.8 800.4,375.4 800.3,376.7 800.6,373.3 801.0,375.9 801.3,375.0 801.6,372.4 801.8,372.5 801.7,373.5 802.3,370.5 802.0,369.3 802.8,369.7 803.1,372.4 803.3,371.4 803.4,368.9 803.6,370.6 804.3,368.3 804.1,368.6 804.5,368.3 804.4,368.1 805.0,368.0 805.2,367.3 805.4,367.0 805.8,368.7 805.8,367.1 806.2,367.1 806.5,366.8 806.7,367.7 807.0,368.5 807.2,369.2 807.4,367.9 807.8,363.7 808.0,362.0 808.2,364.3 808.5,366.8 808.9,368.5 809.1,367.3 809.2,366.1 809.5,364.1 809.7,366.0 810.0,366.8 810.3,368.3 810.5,369.5 810.8,368.8 811.1,369.4 811.0,370.2 811.4,370.8 811.9,371.4 812.0,368.9 812.4,369.9 812.6,369.5 812.1,373.0 813.0,372.0 813.3,372.9 813.6,374.0 813.8,374.0 814.3,373.5 813.7,373.5 814.1,373.3 814.7,375.0 815.5,372.2 815.1,374.9 815.9,370.8 815.6,369.2 816.0,368.8 815.6,367.6 816.7,363.4 817.5,363.8 817.7,363.8 817.0,362.1 817.3,362.3 817.8,361.7 817.8,360.4 818.1,361.4 818.6,361.9 818.5,362.4 819.5,362.1 819.1,360.4 819.8,360.6 819.8,359.2 819.4,360.4 820.2,359.8 820.5,358.6 820.4,357.3 820.9,352.2 821.0,353.5 821.2,354.0 821.7,353.8 822.0,354.0 822.2,353.5 822.4,353.7 822.4,352.7 823.0,353.2 823.1,349.3 823.6,350.4 823.8,350.2 823.7,354.1 824.2,354.8 824.5,351.9 824.5,351.5 824.9,351.7 825.0,350.6 825.4,351.6 825.3,350.9 825.6,349.4 826.4,349.6 826.4,348.8 826.6,347.2 826.8,349.2 827.4,348.7 827.3,348.3 827.6,347.2 827.8,348.5 828.1,347.6 828.3,347.7 828.9,350.1 828.8,348.2 829.1,349.8 829.2,348.9 829.5,350.6 829.6,353.5 830.1,353.8 830.4,350.7 830.6,351.5 830.8,352.2 831.1,351.9 831.7,350.6 831.8,349.7 831.9,349.5 832.0,349.5 831.7,347.8 832.3,348.0 833.2,347.4 833.1,345.6 833.7,342.9 832.6,341.1 833.4,342.3 832.6,344.4 834.1,343.5 834.2,341.2 834.3,340.9 835.2,339.1 835.2,338.5 835.5,337.1 836.1,339.4 836.0,339.7 835.4,339.7 836.3,340.4 836.6,341.3 837.4,342.4 836.8,343.3 837.5,343.1 837.4,345.4 837.9,345.3 838.6,345.6 838.9,345.4 838.8,344.9 838.5,343.6 839.7,343.1 839.4,344.6 840.7,343.2 840.3,339.6 841.0,338.6 840.5,342.7 840.5,339.3 841.6,340.0 842.4,338.6 842.0,337.9 842.4,334.3 841.9,334.1 842.3,335.5 842.2,333.1 842.6,331.8 843.2,332.3 843.2,332.7 843.4,333.4 843.5,332.9 843.8,335.2 844.2,333.5 845.2,331.5 844.8,328.1 845.2,328.4 844.6,325.7 844.8,325.4 845.8,328.1 845.7,331.3 846.1,326.7 846.3,326.8 846.7,328.6 846.7,325.7 846.8,323.3 847.5,322.8 847.7,323.8 848.0,322.3 848.2,321.8 848.6,323.2 848.7,326.3 849.0,324.6 849.2,325.6 849.3,323.3 849.6,325.2 849.8,328.8 850.0,327.9 850.5,326.4 850.5,326.7 850.7,327.5 851.1,326.3 851.4,325.7 851.6,326.0 851.9,326.3 852.1,326.0 852.5,326.1 852.6,324.8 853.4,326.4 853.7,327.6 853.5,323.8 853.5,324.2 853.7,325.5 854.2,325.5 854.2,324.5 854.3,325.3 854.7,324.5 854.9,322.7 855.4,321.6 854.7,325.2 856.4,329.5 856.1,330.3 854.9,326.8 856.2,328.2 856.3,329.9 856.5,330.3 857.0,332.0 857.6,332.7 858.2,335.3 858.5,336.0 857.9,341.3 856.8,339.4 858.0,339.3 859.2,339.9 859.6,345.6 858.9,343.6 860.4,343.1 858.7,346.7 859.2,348.7 860.5,350.4 859.4,349.7 860.9,346.9 860.0,345.7 861.6,344.8 861.4,343.5 861.0,343.5 861.5,342.6 862.2,337.7 864.2,336.4 863.7,333.9 863.9,334.7 863.1,333.9 863.2,330.5 863.5,330.6 863.7,326.7 864.0,326.1 864.9,324.1 864.5,325.4 864.6,324.2 865.4,320.5 864.5,319.9 866.1,318.9 865.3,318.7 865.8,321.2 866.5,319.9 866.5,319.4 867.0,317.4 867.0,317.2 867.0,319.3 867.1,319.8 867.6,319.2 867.9,318.1 868.1,318.3 868.8,318.3 868.1,314.5 868.9,310.5 869.3,312.4 869.7,312.8 869.4,309.7 869.6,312.4 870.3,314.1 870.1,312.5 870.7,312.6 870.9,311.6 871.1,310.5 871.3,312.7 871.4,311.5 871.6,310.6 872.5,311.1 872.3,309.0 872.9,310.0 872.4,307.6 873.2,308.1 873.6,308.9 873.8,306.8 874.3,307.6 874.0,305.9 874.5,304.3 874.9,303.7 874.9,304.6 875.2,305.1 875.4,305.0"/>
<!-- axis -->
<g fill="#000">
<rect x="17" y="479.6" width="984" height="2"/>
<rect x="50.6" y="480" width="2" height="11.7"/>
<rect x="371.1" y="480" width="2" height="11.7"/>
<rect x="691.2" y="480" width="2" height="11.7"/>
<rect x="875.7" y="480" width="2" height="11.7"/>
</g>
</svg>
</body></html>
